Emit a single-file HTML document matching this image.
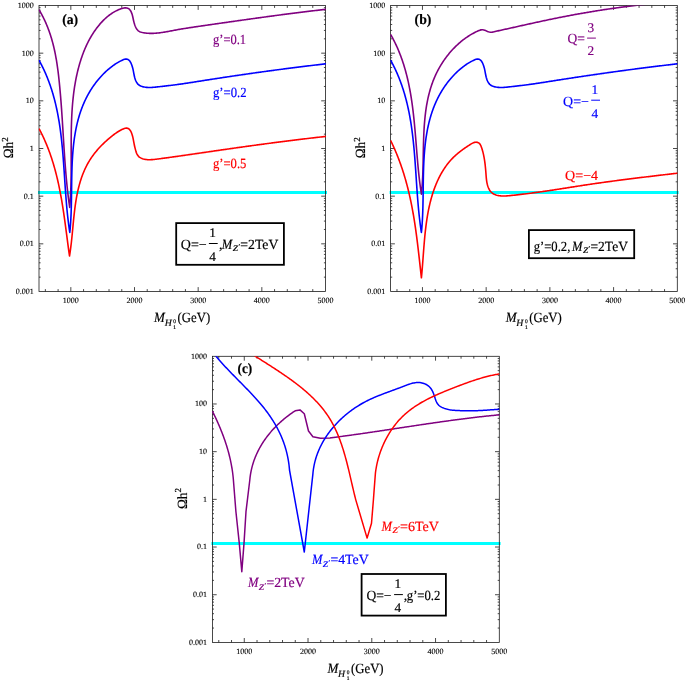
<!DOCTYPE html>
<html lang="en"><head><meta charset="utf-8"><title>Relic density plots</title>
<style>
html,body{margin:0;padding:0;background:#fff}
body{width:685px;height:682px;overflow:hidden}
svg{display:block}
svg text{font-family:"Liberation Serif","DejaVu Serif",serif;text-rendering:geometricPrecision}
</style></head><body>
<svg width="685" height="682" viewBox="0 0 685 682">
<rect width="685" height="682" fill="#fff"/>
<path d="M38 192.5H327" stroke="#00ffff" stroke-width="3"/>
<clipPath id="cp1"><rect x="38.6" y="5.5" width="287.3" height="286"/></clipPath>
<path d="M45.37 291.5v-2.4M45.37 5.5v2.4M58.1 291.5v-2.4M58.1 5.5v2.4M70.83 291.5v-4.4M70.83 5.5v4.4M83.57 291.5v-2.4M83.57 5.5v2.4M96.3 291.5v-2.4M96.3 5.5v2.4M109.03 291.5v-2.4M109.03 5.5v2.4M121.77 291.5v-2.4M121.77 5.5v2.4M134.5 291.5v-4.4M134.5 5.5v4.4M147.23 291.5v-2.4M147.23 5.5v2.4M159.97 291.5v-2.4M159.97 5.5v2.4M172.7 291.5v-2.4M172.7 5.5v2.4M185.43 291.5v-2.4M185.43 5.5v2.4M198.17 291.5v-4.4M198.17 5.5v4.4M210.9 291.5v-2.4M210.9 5.5v2.4M223.63 291.5v-2.4M223.63 5.5v2.4M236.37 291.5v-2.4M236.37 5.5v2.4M249.1 291.5v-2.4M249.1 5.5v2.4M261.83 291.5v-4.4M261.83 5.5v4.4M274.57 291.5v-2.4M274.57 5.5v2.4M287.3 291.5v-2.4M287.3 5.5v2.4M300.03 291.5v-2.4M300.03 5.5v2.4M312.77 291.5v-2.4M312.77 5.5v2.4M39 277.15h1.6M325.5 277.15h-1.6M39 268.76h1.6M325.5 268.76h-1.6M39 262.8h1.6M325.5 262.8h-1.6M39 258.18h1.6M325.5 258.18h-1.6M39 254.41h1.6M325.5 254.41h-1.6M39 251.22h1.6M325.5 251.22h-1.6M39 248.45h1.6M325.5 248.45h-1.6M39 246.01h1.6M325.5 246.01h-1.6M39 243.83h4.3M325.5 243.83h-4.3M39 229.48h1.6M325.5 229.48h-1.6M39 221.09h1.6M325.5 221.09h-1.6M39 215.14h1.6M325.5 215.14h-1.6M39 210.52h1.6M325.5 210.52h-1.6M39 206.74h1.6M325.5 206.74h-1.6M39 203.55h1.6M325.5 203.55h-1.6M39 200.79h1.6M325.5 200.79h-1.6M39 198.35h1.6M325.5 198.35h-1.6M39 196.17h4.3M325.5 196.17h-4.3M39 181.82h1.6M325.5 181.82h-1.6M39 173.42h1.6M325.5 173.42h-1.6M39 167.47h1.6M325.5 167.47h-1.6M39 162.85h1.6M325.5 162.85h-1.6M39 159.07h1.6M325.5 159.07h-1.6M39 155.88h1.6M325.5 155.88h-1.6M39 153.12h1.6M325.5 153.12h-1.6M39 150.68h1.6M325.5 150.68h-1.6M39 148.5h4.3M325.5 148.5h-4.3M39 134.15h1.6M325.5 134.15h-1.6M39 125.76h1.6M325.5 125.76h-1.6M39 119.8h1.6M325.5 119.8h-1.6M39 115.18h1.6M325.5 115.18h-1.6M39 111.41h1.6M325.5 111.41h-1.6M39 108.22h1.6M325.5 108.22h-1.6M39 105.45h1.6M325.5 105.45h-1.6M39 103.01h1.6M325.5 103.01h-1.6M39 100.83h4.3M325.5 100.83h-4.3M39 86.48h1.6M325.5 86.48h-1.6M39 78.09h1.6M325.5 78.09h-1.6M39 72.14h1.6M325.5 72.14h-1.6M39 67.52h1.6M325.5 67.52h-1.6M39 63.74h1.6M325.5 63.74h-1.6M39 60.55h1.6M325.5 60.55h-1.6M39 57.79h1.6M325.5 57.79h-1.6M39 55.35h1.6M325.5 55.35h-1.6M39 53.17h4.3M325.5 53.17h-4.3M39 38.82h1.6M325.5 38.82h-1.6M39 30.42h1.6M325.5 30.42h-1.6M39 24.47h1.6M325.5 24.47h-1.6M39 19.85h1.6M325.5 19.85h-1.6M39 16.07h1.6M325.5 16.07h-1.6M39 12.88h1.6M325.5 12.88h-1.6M39 10.12h1.6M325.5 10.12h-1.6M39 7.68h1.6M325.5 7.68h-1.6" stroke="#1c1c1c" stroke-width="0.8" fill="none"/>
<rect x="39" y="5.5" width="286.5" height="286" fill="none" stroke="#1c1c1c" stroke-width="0.8"/>
<g font-size="8" fill="#000" stroke="#000" stroke-width="0.12"><text x="70.83" y="302.8" text-anchor="middle">1000</text><text x="134.5" y="302.8" text-anchor="middle">2000</text><text x="198.17" y="302.8" text-anchor="middle">3000</text><text x="261.83" y="302.8" text-anchor="middle">4000</text><text x="325.5" y="302.8" text-anchor="middle">5000</text><text x="33.7" y="293.9" text-anchor="end">0.001</text><text x="33.7" y="246.23" text-anchor="end">0.01</text><text x="33.7" y="198.57" text-anchor="end">0.1</text><text x="33.7" y="150.9" text-anchor="end">1</text><text x="33.7" y="103.23" text-anchor="end">10</text><text x="33.7" y="55.57" text-anchor="end">100</text><text x="33.7" y="7.9" text-anchor="end">1000</text></g>
<text transform="translate(13.3 158.3) rotate(-90)" font-size="14" fill="#000" stroke="#000" stroke-width="0.18"><tspan textLength="16.6" lengthAdjust="spacingAndGlyphs">Ωh</tspan><tspan font-size="9.2" dy="-5.4">2</tspan></text>
<text x="154.1" y="321.8" font-size="14" fill="#000" stroke="#000" stroke-width="0.18" textLength="10.8" lengthAdjust="spacingAndGlyphs" font-style="italic">M</text>
<text x="164.7" y="326.1" font-size="9.4" fill="#000" stroke="#000" stroke-width="0.18" textLength="7" lengthAdjust="spacingAndGlyphs" font-style="italic">H</text>
<text x="173.3" y="322.6" font-size="5.4" fill="#000" stroke="#000" stroke-width="0.18">0</text>
<text x="173.3" y="328.9" font-size="5.4" fill="#000" stroke="#000" stroke-width="0.18">1</text>
<text x="177.6" y="321.8" font-size="14" fill="#000" stroke="#000" stroke-width="0.18" textLength="32.6" lengthAdjust="spacingAndGlyphs">(GeV)</text>
<path d="M39 9.7L39.53 10.6L40.06 11.5L40.57 12.4L41.08 13.31L41.57 14.21L42.06 15.12L42.53 16.03L43 16.94L43.46 17.85L43.9 18.77L44.34 19.69L44.78 20.6L45.2 21.52L45.61 22.44L46.02 23.37L46.41 24.29L46.8 25.22L47.18 26.14L47.56 27.07L47.92 28L48.28 28.94L48.63 29.87L48.97 30.81L49.31 31.74L49.63 32.68L49.95 33.62L50.27 34.56L50.57 35.5L50.87 36.45L51.17 37.39L51.45 38.34L51.73 39.29L52 40.23L52.27 41.19L52.53 42.14L52.79 43.09L53.04 44.04L53.28 45L53.52 45.96L53.75 46.92L53.97 47.87L54.19 48.84L54.41 49.8L54.62 50.76L54.82 51.72L55.02 52.69L55.22 53.66L55.41 54.62L55.59 55.59L55.77 56.56L55.95 57.53L56.12 58.51L56.29 59.48L56.46 60.45L56.62 61.43L56.77 62.4L56.93 63.38L57.08 64.36L57.22 65.34L57.36 66.32L57.5 67.3L57.64 68.28L57.77 69.26L57.9 70.25L58.03 71.23L58.15 72.22L58.27 73.2L58.39 74.19L58.51 75.18L58.62 76.17L58.73 77.16L58.84 78.15L58.95 79.14L59.06 80.13L59.16 81.13L59.27 82.12L59.37 83.11L59.47 84.11L59.56 85.1L59.66 86.1L59.76 87.1L59.85 88.1L59.94 89.09L60.03 90.09L60.12 91.09L60.21 92.09L60.3 93.09L60.39 94.1L60.47 95.1L60.56 96.1L60.64 97.1L60.72 98.11L60.8 99.11L60.88 100.11L60.96 101.12L61.04 102.12L61.11 103.13L61.19 104.14L61.26 105.14L61.34 106.15L61.41 107.16L61.48 108.17L61.56 109.17L61.63 110.18L61.7 111.19L61.77 112.2L61.84 113.21L61.9 114.22L61.97 115.23L62.04 116.24L62.1 117.25L62.17 118.26L62.24 119.27L62.3 120.28L62.37 121.29L62.43 122.3L62.49 123.32L62.56 124.33L62.62 125.34L62.68 126.35L62.75 127.36L62.81 128.38L62.87 129.39L62.94 130.4L63 131.41L63.06 132.43L63.12 133.44L63.18 134.45L63.25 135.46L63.31 136.47L63.37 137.49L63.43 138.5L63.5 139.51L63.56 140.52L63.62 141.54L63.68 142.55L63.75 143.56L63.81 144.57L63.88 145.58L63.94 146.59L64 147.6L64.07 148.62L64.13 149.63L64.2 150.64L64.27 151.65L64.33 152.66L64.4 153.67L64.47 154.68L64.54 155.69L64.61 156.69L64.68 157.7L64.75 158.71L64.82 159.72L64.89 160.73L64.97 161.73L65.04 162.74L65.11 163.75L65.19 164.75L65.27 165.76L65.34 166.76L65.42 167.77L65.5 168.77L65.58 169.77L65.66 170.78L65.75 171.78L65.83 172.78L65.91 173.78L66 174.78L66.09 175.78L66.18 176.78L66.27 177.78L66.36 178.78L66.45 179.78L66.54 180.78L66.64 181.77L66.74 182.77L66.83 183.76L66.93 184.76L67.03 185.75L67.14 186.74L67.24 187.74L67.35 188.73L67.45 189.72L67.56 190.71L67.67 191.7L67.79 192.68L67.9 193.67L68.02 194.66L68.13 195.64L68.25 196.63L68.38 197.61L68.5 198.6L68.62 199.58L68.75 200.56L68.88 201.54L69.01 202.52L69.15 203.5L69.28 204.47L69.42 205.45L69.56 206.43L69.7 207.4L69.79 206.42L69.87 205.44L69.95 204.46L70.02 203.48L70.1 202.5L70.17 201.51L70.24 200.53L70.3 199.54L70.36 198.56L70.42 197.57L70.47 196.58L70.53 195.59L70.58 194.6L70.63 193.61L70.67 192.61L70.71 191.62L70.75 190.63L70.79 189.63L70.83 188.64L70.86 187.64L70.89 186.64L70.92 185.65L70.95 184.65L70.97 183.65L71 182.65L71.02 181.65L71.04 180.65L71.06 179.64L71.08 178.64L71.09 177.64L71.11 176.63L71.12 175.63L71.13 174.63L71.14 173.62L71.15 172.61L71.16 171.61L71.16 170.6L71.17 169.59L71.17 168.59L71.18 167.58L71.18 166.57L71.18 165.56L71.18 164.55L71.18 163.54L71.18 162.53L71.18 161.52L71.18 160.51L71.18 159.5L71.18 158.49L71.18 157.48L71.18 156.47L71.18 155.46L71.18 154.44L71.18 153.43L71.17 152.42L71.17 151.41L71.17 150.4L71.17 149.38L71.17 148.37L71.17 147.36L71.17 146.35L71.17 145.33L71.18 144.32L71.18 143.31L71.18 142.3L71.19 141.28L71.19 140.27L71.2 139.26L71.21 138.25L71.22 137.23L71.23 136.22L71.24 135.21L71.25 134.2L71.26 133.19L71.28 132.18L71.29 131.17L71.31 130.16L71.33 129.15L71.35 128.14L71.38 127.13L71.4 126.12L71.43 125.11L71.46 124.1L71.49 123.09L71.52 122.08L71.56 121.08L71.6 120.07L71.63 119.06L71.68 118.06L71.72 117.05L71.77 116.05L71.82 115.04L71.87 114.04L71.93 113.04L71.98 112.03L72.04 111.03L72.11 110.03L72.17 109.03L72.24 108.03L72.32 107.03L72.39 106.03L72.47 105.03L72.55 104.04L72.64 103.04L72.73 102.05L72.82 101.05L72.92 100.06L73.02 99.06L73.12 98.07L73.23 97.08L73.34 96.09L73.45 95.1L73.57 94.11L73.69 93.12L73.82 92.14L73.95 91.15L74.09 90.16L74.23 89.18L74.37 88.2L74.52 87.22L74.67 86.24L74.83 85.26L74.99 84.28L75.16 83.3L75.33 82.32L75.5 81.35L75.69 80.38L75.87 79.4L76.06 78.43L76.26 77.46L76.46 76.49L76.67 75.52L76.88 74.56L77.09 73.59L77.32 72.63L77.54 71.67L77.78 70.7L78.02 69.74L78.26 68.79L78.51 67.83L78.77 66.87L79.03 65.92L79.3 64.97L79.57 64.02L79.85 63.07L80.14 62.12L80.43 61.17L80.73 60.23L81.03 59.28L81.34 58.34L81.66 57.4L81.99 56.47L82.32 55.53L82.66 54.6L83 53.67L83.35 52.74L83.71 51.82L84.08 50.9L84.46 49.98L84.84 49.06L85.23 48.15L85.63 47.24L86.03 46.33L86.44 45.43L86.87 44.53L87.3 43.64L87.73 42.74L88.18 41.86L88.64 40.97L89.1 40.1L89.57 39.22L90.05 38.35L90.54 37.49L91.04 36.63L91.55 35.77L92.07 34.92L92.6 34.07L93.13 33.23L93.68 32.4L94.24 31.57L94.8 30.74L95.38 29.93L95.96 29.11L96.56 28.31L97.17 27.51L97.78 26.71L98.41 25.92L99.05 25.14L99.69 24.37L100.35 23.6L101.02 22.84L101.71 22.1L102.4 21.36L103.1 20.63L103.82 19.91L104.55 19.2L105.29 18.51L106.04 17.83L106.81 17.16L107.58 16.5L108.37 15.86L109.18 15.24L109.99 14.63L110.82 14.04L111.67 13.47L112.52 12.91L113.4 12.37L114.28 11.85L115.18 11.35L116.09 10.88L117.02 10.42L117.96 9.98L118.92 9.57L119.89 9.18L120.88 8.81L121.87 8.48L122.88 8.21L123.88 8L124.87 7.88L125.85 7.87L126.81 7.98L127.72 8.23L128.57 8.63L129.32 9.2L129.98 9.92L130.55 10.76L131.05 11.67L131.48 12.63L131.85 13.6L132.17 14.57L132.44 15.55L132.69 16.53L132.91 17.52L133.12 18.5L133.33 19.48L133.54 20.46L133.76 21.43L134 22.39L134.26 23.36L134.56 24.31L134.89 25.26L135.27 26.21L135.69 27.15L136.17 28.08L136.71 28.97L137.32 29.8L138 30.55L138.76 31.17L139.61 31.66L140.53 32.03L141.48 32.32L142.47 32.54L143.46 32.73L144.46 32.89L145.45 33.02L146.44 33.14L147.44 33.23L148.43 33.29L149.42 33.34L150.41 33.37L151.41 33.37L152.4 33.36L153.39 33.33L154.38 33.29L155.37 33.22L156.37 33.15L157.36 33.06L158.35 32.96L159.34 32.84L160.33 32.72L161.32 32.58L162.32 32.43L163.31 32.28L164.3 32.12L165.29 31.95L166.28 31.78L167.27 31.6L168.26 31.42L169.25 31.23L170.24 31.05L171.23 30.86L172.22 30.67L173.22 30.49L174.21 30.3L175.2 30.12L176.19 29.94L177.18 29.76L178.17 29.58L179.16 29.41L180.15 29.24L181.14 29.07L182.13 28.91L183.12 28.74L184.11 28.58L185.1 28.42L186.09 28.26L187.08 28.11L188.07 27.95L189.06 27.8L190.05 27.65L191.04 27.49L192.03 27.34L193.02 27.2L194.01 27.05L195 26.9L195.99 26.76L196.98 26.61L197.97 26.47L198.96 26.32L199.95 26.18L200.94 26.04L201.93 25.89L202.92 25.75L203.91 25.61L204.9 25.47L205.89 25.32L206.88 25.18L207.87 25.04L208.86 24.9L209.85 24.75L210.84 24.61L211.83 24.47L212.83 24.33L213.82 24.18L214.81 24.04L215.8 23.9L216.79 23.76L217.78 23.61L218.77 23.47L219.76 23.33L220.75 23.19L221.74 23.05L222.73 22.9L223.72 22.76L224.72 22.62L225.71 22.48L226.7 22.34L227.69 22.2L228.68 22.05L229.67 21.91L230.66 21.77L231.65 21.63L232.64 21.49L233.64 21.35L234.63 21.21L235.62 21.07L236.61 20.93L237.6 20.79L238.59 20.65L239.58 20.5L240.58 20.36L241.57 20.22L242.56 20.08L243.55 19.95L244.54 19.81L245.54 19.67L246.53 19.53L247.52 19.39L248.51 19.25L249.5 19.11L250.5 18.97L251.49 18.83L252.48 18.7L253.47 18.56L254.46 18.42L255.46 18.28L256.45 18.14L257.44 18.01L258.43 17.87L259.42 17.73L260.42 17.6L261.41 17.46L262.4 17.33L263.39 17.19L264.39 17.05L265.38 16.92L266.37 16.78L267.36 16.65L268.36 16.51L269.35 16.38L270.34 16.25L271.34 16.11L272.33 15.98L273.32 15.85L274.31 15.71L275.31 15.58L276.3 15.45L277.29 15.32L278.29 15.18L279.28 15.05L280.27 14.92L281.27 14.79L282.26 14.66L283.25 14.53L284.25 14.4L285.24 14.27L286.23 14.14L287.23 14.01L288.22 13.88L289.21 13.76L290.21 13.63L291.2 13.5L292.19 13.37L293.19 13.25L294.18 13.12L295.17 13L296.17 12.87L297.16 12.74L298.16 12.62L299.15 12.5L300.14 12.37L301.14 12.25L302.13 12.12L303.13 12L304.12 11.88L305.11 11.76L306.11 11.64L307.1 11.52L308.1 11.39L309.09 11.27L310.09 11.15L311.08 11.03L312.07 10.92L313.07 10.8L314.06 10.68L315.06 10.56L316.05 10.44L317.05 10.33L318.04 10.21L319.04 10.1L320.03 9.98L321.03 9.87L322.02 9.75L323.02 9.64L324.01 9.53L325.01 9.41L326 9.3" fill="none" stroke="#800080" stroke-width="1.6" stroke-linejoin="round" clip-path="url(#cp1)"/>
<path d="M39 60.2L39.5 61.1L39.98 62L40.47 62.9L40.94 63.8L41.41 64.71L41.87 65.62L42.33 66.53L42.77 67.44L43.21 68.35L43.65 69.26L44.08 70.18L44.5 71.1L44.91 72.02L45.32 72.94L45.72 73.86L46.12 74.78L46.51 75.71L46.89 76.64L47.27 77.57L47.64 78.5L48.01 79.43L48.37 80.36L48.72 81.3L49.07 82.23L49.41 83.17L49.75 84.11L50.08 85.05L50.41 86L50.73 86.94L51.04 87.88L51.35 88.83L51.66 89.78L51.96 90.73L52.25 91.68L52.54 92.63L52.82 93.58L53.1 94.54L53.37 95.49L53.64 96.45L53.91 97.41L54.17 98.37L54.42 99.33L54.67 100.29L54.91 101.25L55.15 102.22L55.39 103.18L55.62 104.15L55.85 105.12L56.07 106.09L56.29 107.06L56.5 108.03L56.72 109L56.92 109.97L57.12 110.94L57.32 111.92L57.52 112.9L57.71 113.87L57.89 114.85L58.08 115.83L58.26 116.81L58.43 117.79L58.6 118.77L58.77 119.75L58.94 120.74L59.1 121.72L59.26 122.7L59.41 123.69L59.56 124.68L59.71 125.66L59.86 126.65L60 127.64L60.14 128.63L60.28 129.62L60.41 130.61L60.54 131.6L60.67 132.59L60.8 133.59L60.92 134.58L61.04 135.58L61.16 136.57L61.28 137.57L61.39 138.56L61.5 139.56L61.61 140.56L61.72 141.55L61.82 142.55L61.92 143.55L62.02 144.55L62.12 145.55L62.22 146.55L62.31 147.55L62.4 148.55L62.5 149.55L62.58 150.55L62.67 151.55L62.76 152.56L62.84 153.56L62.93 154.56L63.01 155.57L63.09 156.57L63.17 157.57L63.25 158.58L63.32 159.58L63.4 160.59L63.47 161.59L63.55 162.6L63.62 163.6L63.69 164.61L63.76 165.61L63.83 166.62L63.9 167.62L63.97 168.63L64.04 169.64L64.11 170.64L64.18 171.65L64.25 172.65L64.31 173.66L64.38 174.67L64.45 175.67L64.51 176.68L64.58 177.68L64.65 178.69L64.71 179.7L64.78 180.7L64.84 181.71L64.91 182.71L64.98 183.72L65.05 184.72L65.11 185.73L65.18 186.73L65.25 187.74L65.32 188.74L65.39 189.75L65.46 190.75L65.53 191.76L65.6 192.76L65.68 193.76L65.75 194.77L65.82 195.77L65.9 196.77L65.98 197.77L66.05 198.78L66.13 199.78L66.21 200.78L66.3 201.78L66.38 202.78L66.46 203.78L66.55 204.78L66.64 205.78L66.73 206.77L66.82 207.77L66.91 208.77L67 209.76L67.1 210.76L67.2 211.76L67.3 212.75L67.4 213.75L67.5 214.74L67.61 215.73L67.72 216.72L67.83 217.72L67.94 218.71L68.06 219.7L68.18 220.69L68.3 221.68L68.42 222.66L68.54 223.65L68.67 224.64L68.8 225.62L68.94 226.61L69.07 227.59L69.21 228.58L69.35 229.56L69.5 230.54L69.65 231.52L69.8 232.5L69.9 231.54L69.99 230.57L70.08 229.61L70.17 228.64L70.25 227.67L70.33 226.69L70.41 225.72L70.48 224.74L70.55 223.76L70.62 222.78L70.68 221.8L70.74 220.82L70.8 219.83L70.85 218.85L70.9 217.86L70.95 216.87L70.99 215.88L71.04 214.89L71.08 213.89L71.12 212.9L71.15 211.9L71.18 210.9L71.22 209.9L71.25 208.9L71.27 207.9L71.3 206.9L71.33 205.9L71.35 204.89L71.37 203.89L71.39 202.88L71.41 201.87L71.43 200.86L71.44 199.86L71.46 198.85L71.48 197.83L71.49 196.82L71.5 195.81L71.52 194.8L71.53 193.78L71.54 192.77L71.55 191.76L71.57 190.74L71.58 189.72L71.59 188.71L71.6 187.69L71.61 186.68L71.63 185.66L71.64 184.64L71.65 183.62L71.67 182.61L71.68 181.59L71.7 180.57L71.71 179.55L71.73 178.53L71.75 177.52L71.77 176.5L71.79 175.48L71.81 174.46L71.84 173.44L71.86 172.43L71.89 171.41L71.92 170.39L71.95 169.38L71.98 168.36L72.02 167.34L72.06 166.33L72.1 165.31L72.14 164.3L72.18 163.28L72.23 162.27L72.28 161.26L72.33 160.25L72.39 159.23L72.45 158.22L72.51 157.21L72.57 156.2L72.64 155.2L72.71 154.19L72.79 153.18L72.87 152.18L72.95 151.17L73.03 150.17L73.12 149.17L73.22 148.17L73.32 147.17L73.42 146.17L73.52 145.17L73.63 144.17L73.75 143.18L73.87 142.18L73.99 141.19L74.12 140.2L74.26 139.21L74.39 138.22L74.54 137.24L74.69 136.25L74.84 135.27L75 134.29L75.16 133.31L75.34 132.33L75.51 131.35L75.69 130.38L75.88 129.41L76.07 128.43L76.27 127.47L76.48 126.5L76.69 125.53L76.91 124.57L77.13 123.61L77.36 122.65L77.6 121.7L77.85 120.74L78.1 119.79L78.36 118.84L78.62 117.89L78.89 116.95L79.17 116.01L79.46 115.06L79.75 114.13L80.05 113.19L80.36 112.26L80.68 111.33L81 110.4L81.34 109.48L81.68 108.56L82.02 107.64L82.38 106.72L82.75 105.81L83.12 104.89L83.5 103.99L83.89 103.08L84.29 102.18L84.7 101.28L85.11 100.38L85.54 99.49L85.97 98.6L86.42 97.72L86.87 96.84L87.33 95.96L87.8 95.08L88.28 94.21L88.76 93.35L89.26 92.49L89.76 91.63L90.27 90.78L90.8 89.93L91.33 89.09L91.87 88.26L92.41 87.43L92.97 86.6L93.54 85.78L94.11 84.97L94.7 84.16L95.29 83.36L95.89 82.56L96.5 81.77L97.12 80.99L97.75 80.21L98.38 79.44L99.03 78.68L99.68 77.92L100.35 77.17L101.02 76.43L101.7 75.7L102.39 74.97L103.09 74.25L103.8 73.54L104.52 72.84L105.24 72.14L105.98 71.46L106.72 70.78L107.47 70.11L108.23 69.45L109 68.8L109.78 68.15L110.57 67.52L111.37 66.9L112.18 66.28L112.99 65.68L113.82 65.09L114.65 64.51L115.5 63.94L116.36 63.39L117.23 62.85L118.11 62.33L119 61.82L119.9 61.34L120.82 60.87L121.75 60.42L122.7 59.99L123.65 59.6L124.6 59.29L125.54 59.09L126.45 59.07L127.31 59.22L128.12 59.56L128.87 60.08L129.54 60.76L130.13 61.58L130.67 62.49L131.14 63.46L131.56 64.46L131.93 65.45L132.25 66.44L132.54 67.42L132.8 68.4L133.03 69.37L133.24 70.35L133.43 71.32L133.61 72.3L133.79 73.28L133.98 74.26L134.17 75.24L134.38 76.22L134.61 77.19L134.88 78.16L135.18 79.12L135.52 80.07L135.92 81.01L136.37 81.92L136.89 82.8L137.48 83.61L138.15 84.35L138.91 84.99L139.76 85.52L140.67 85.96L141.62 86.33L142.61 86.62L143.59 86.87L144.58 87.07L145.57 87.22L146.56 87.34L147.55 87.42L148.54 87.46L149.53 87.48L150.52 87.47L151.51 87.44L152.51 87.38L153.5 87.31L154.49 87.22L155.48 87.12L156.47 87.02L157.46 86.91L158.45 86.8L159.45 86.69L160.44 86.57L161.43 86.46L162.42 86.35L163.41 86.24L164.41 86.12L165.4 86.01L166.39 85.9L167.38 85.78L168.38 85.66L169.37 85.54L170.36 85.42L171.35 85.3L172.35 85.18L173.34 85.05L174.33 84.93L175.32 84.8L176.32 84.67L177.31 84.53L178.3 84.4L179.3 84.26L180.29 84.12L181.28 83.98L182.28 83.84L183.27 83.7L184.26 83.55L185.25 83.4L186.25 83.26L187.24 83.11L188.23 82.96L189.23 82.81L190.22 82.65L191.21 82.5L192.2 82.35L193.2 82.19L194.19 82.04L195.18 81.88L196.17 81.73L197.17 81.57L198.16 81.41L199.15 81.26L200.14 81.1L201.13 80.94L202.12 80.79L203.12 80.63L204.11 80.47L205.1 80.32L206.09 80.16L207.08 80.01L208.07 79.85L209.06 79.7L210.05 79.54L211.04 79.39L212.04 79.23L213.03 79.08L214.02 78.93L215.01 78.78L216 78.62L216.99 78.47L217.98 78.32L218.97 78.17L219.96 78.02L220.95 77.87L221.93 77.71L222.92 77.56L223.91 77.41L224.9 77.27L225.89 77.12L226.88 76.97L227.87 76.82L228.86 76.67L229.85 76.52L230.84 76.38L231.83 76.23L232.82 76.08L233.8 75.93L234.79 75.79L235.78 75.64L236.77 75.5L237.76 75.35L238.75 75.21L239.74 75.06L240.73 74.92L241.71 74.77L242.7 74.63L243.69 74.49L244.68 74.34L245.67 74.2L246.66 74.06L247.65 73.92L248.63 73.78L249.62 73.64L250.61 73.49L251.6 73.35L252.59 73.21L253.58 73.07L254.57 72.94L255.55 72.8L256.54 72.66L257.53 72.52L258.52 72.38L259.51 72.24L260.5 72.11L261.49 71.97L262.48 71.83L263.47 71.7L264.45 71.56L265.44 71.42L266.43 71.29L267.42 71.15L268.41 71.02L269.4 70.88L270.39 70.75L271.38 70.62L272.37 70.48L273.36 70.35L274.35 70.22L275.34 70.08L276.33 69.95L277.32 69.82L278.31 69.69L279.3 69.56L280.29 69.43L281.28 69.3L282.27 69.17L283.26 69.04L284.25 68.91L285.24 68.78L286.23 68.65L287.22 68.52L288.21 68.4L289.21 68.27L290.2 68.14L291.19 68.02L292.18 67.89L293.17 67.76L294.16 67.64L295.16 67.51L296.15 67.39L297.14 67.26L298.13 67.14L299.13 67.01L300.12 66.89L301.11 66.77L302.11 66.64L303.1 66.52L304.09 66.4L305.09 66.28L306.08 66.16L307.07 66.03L308.07 65.91L309.06 65.79L310.06 65.67L311.05 65.55L312.05 65.43L313.04 65.32L314.04 65.2L315.03 65.08L316.03 64.96L317.03 64.84L318.02 64.73L319.02 64.61L320.02 64.49L321.01 64.38L322.01 64.26L323.01 64.14L324 64.03L325 63.91L326 63.8" fill="none" stroke="#0000ff" stroke-width="1.6" stroke-linejoin="round" clip-path="url(#cp1)"/>
<path d="M39 128.6L39.48 129.5L39.96 130.4L40.43 131.31L40.89 132.22L41.35 133.12L41.8 134.03L42.25 134.95L42.69 135.86L43.12 136.78L43.55 137.69L43.97 138.61L44.39 139.53L44.8 140.46L45.2 141.38L45.6 142.31L46 143.23L46.39 144.16L46.77 145.09L47.15 146.03L47.52 146.96L47.89 147.9L48.26 148.83L48.61 149.77L48.97 150.71L49.32 151.66L49.66 152.6L50 153.54L50.33 154.49L50.66 155.44L50.98 156.39L51.3 157.34L51.62 158.29L51.93 159.24L52.23 160.19L52.54 161.15L52.83 162.11L53.13 163.06L53.42 164.02L53.7 164.98L53.98 165.95L54.26 166.91L54.53 167.87L54.8 168.84L55.06 169.8L55.32 170.77L55.58 171.74L55.83 172.71L56.08 173.68L56.33 174.65L56.57 175.62L56.81 176.6L57.05 177.57L57.28 178.55L57.51 179.52L57.73 180.5L57.95 181.48L58.17 182.46L58.39 183.44L58.6 184.42L58.81 185.4L59.02 186.38L59.22 187.37L59.42 188.35L59.62 189.33L59.82 190.32L60.01 191.31L60.2 192.29L60.39 193.28L60.57 194.27L60.76 195.26L60.94 196.25L61.12 197.24L61.29 198.23L61.47 199.22L61.64 200.21L61.81 201.2L61.97 202.19L62.14 203.19L62.3 204.18L62.46 205.17L62.62 206.17L62.78 207.16L62.94 208.16L63.09 209.15L63.25 210.15L63.4 211.15L63.55 212.14L63.7 213.14L63.84 214.14L63.99 215.13L64.13 216.13L64.28 217.13L64.42 218.13L64.56 219.13L64.7 220.12L64.84 221.12L64.98 222.12L65.11 223.12L65.25 224.12L65.38 225.12L65.52 226.11L65.65 227.11L65.79 228.11L65.92 229.11L66.05 230.11L66.18 231.11L66.31 232.11L66.45 233.11L66.58 234.1L66.71 235.1L66.84 236.1L66.97 237.1L67.1 238.1L67.23 239.09L67.36 240.09L67.49 241.09L67.62 242.08L67.75 243.08L67.88 244.08L68.01 245.07L68.15 246.07L68.28 247.06L68.41 248.06L68.55 249.05L68.68 250.05L68.81 251.04L68.95 252.03L69.09 253.03L69.22 254.02L69.36 255.01L69.5 256L69.66 255.03L69.82 254.06L69.97 253.08L70.11 252.11L70.25 251.13L70.39 250.15L70.53 249.17L70.66 248.18L70.79 247.2L70.91 246.21L71.03 245.22L71.15 244.23L71.27 243.24L71.38 242.24L71.49 241.25L71.6 240.25L71.7 239.25L71.81 238.26L71.91 237.26L72.01 236.26L72.11 235.25L72.21 234.25L72.31 233.25L72.4 232.24L72.5 231.24L72.59 230.23L72.69 229.23L72.78 228.22L72.88 227.21L72.97 226.21L73.07 225.2L73.16 224.19L73.26 223.19L73.36 222.18L73.45 221.17L73.55 220.16L73.65 219.16L73.76 218.15L73.86 217.15L73.97 216.14L74.07 215.13L74.18 214.13L74.3 213.13L74.41 212.12L74.53 211.12L74.65 210.12L74.77 209.12L74.9 208.12L75.03 207.12L75.17 206.12L75.3 205.13L75.45 204.13L75.59 203.14L75.74 202.15L75.9 201.16L76.06 200.17L76.22 199.18L76.39 198.2L76.57 197.21L76.75 196.23L76.93 195.25L77.12 194.27L77.32 193.3L77.52 192.32L77.73 191.35L77.95 190.38L78.17 189.42L78.4 188.45L78.63 187.49L78.88 186.53L79.13 185.58L79.38 184.62L79.65 183.67L79.92 182.73L80.2 181.78L80.49 180.84L80.79 179.9L81.09 178.97L81.41 178.03L81.73 177.11L82.06 176.18L82.4 175.26L82.75 174.34L83.11 173.42L83.48 172.51L83.86 171.61L84.25 170.7L84.65 169.8L85.06 168.91L85.48 168.02L85.91 167.13L86.35 166.25L86.8 165.37L87.27 164.49L87.74 163.62L88.23 162.76L88.73 161.9L89.24 161.04L89.76 160.19L90.29 159.34L90.84 158.5L91.4 157.66L91.97 156.83L92.56 156L93.16 155.18L93.77 154.36L94.39 153.55L95.02 152.74L95.67 151.95L96.33 151.15L97 150.36L97.67 149.58L98.36 148.81L99.05 148.04L99.76 147.28L100.47 146.53L101.18 145.79L101.91 145.05L102.64 144.32L103.38 143.6L104.12 142.89L104.86 142.19L105.61 141.49L106.37 140.81L107.12 140.13L107.88 139.46L108.64 138.81L109.4 138.16L110.17 137.52L110.93 136.9L111.69 136.28L112.46 135.68L113.22 135.08L113.99 134.5L114.76 133.93L115.54 133.37L116.33 132.82L117.14 132.28L117.96 131.76L118.79 131.25L119.65 130.75L120.53 130.27L121.43 129.79L122.36 129.34L123.31 128.9L124.28 128.51L125.25 128.23L126.2 128.1L127.11 128.15L127.96 128.39L128.75 128.81L129.45 129.4L130.07 130.15L130.62 131.01L131.1 131.95L131.53 132.93L131.9 133.92L132.22 134.91L132.5 135.91L132.76 136.92L132.98 137.92L133.18 138.92L133.38 139.91L133.56 140.9L133.74 141.87L133.93 142.85L134.12 143.82L134.31 144.78L134.51 145.75L134.72 146.72L134.95 147.69L135.19 148.66L135.45 149.65L135.73 150.64L136.03 151.63L136.37 152.62L136.76 153.58L137.2 154.49L137.72 155.35L138.32 156.13L139.01 156.82L139.79 157.41L140.64 157.9L141.54 158.32L142.48 158.68L143.44 158.97L144.4 159.2L145.37 159.39L146.34 159.53L147.32 159.63L148.3 159.69L149.29 159.71L150.28 159.71L151.28 159.67L152.28 159.61L153.28 159.53L154.28 159.43L155.28 159.32L156.28 159.2L157.29 159.07L158.29 158.94L159.29 158.81L160.3 158.67L161.3 158.54L162.3 158.41L163.3 158.27L164.3 158.14L165.3 158L166.3 157.87L167.29 157.73L168.29 157.6L169.29 157.46L170.28 157.32L171.28 157.19L172.27 157.05L173.27 156.91L174.26 156.77L175.26 156.63L176.25 156.49L177.24 156.35L178.23 156.21L179.23 156.07L180.22 155.93L181.21 155.79L182.2 155.65L183.19 155.51L184.18 155.37L185.17 155.23L186.16 155.08L187.15 154.94L188.14 154.8L189.13 154.66L190.12 154.51L191.11 154.37L192.09 154.23L193.08 154.08L194.07 153.94L195.06 153.8L196.04 153.65L197.03 153.51L198.02 153.36L199.01 153.22L199.99 153.08L200.98 152.93L201.97 152.79L202.96 152.64L203.94 152.5L204.93 152.36L205.92 152.21L206.9 152.07L207.89 151.92L208.88 151.78L209.86 151.63L210.85 151.49L211.84 151.35L212.83 151.2L213.81 151.06L214.8 150.91L215.79 150.77L216.78 150.63L217.77 150.48L218.75 150.34L219.74 150.2L220.73 150.05L221.72 149.91L222.71 149.77L223.7 149.63L224.69 149.48L225.68 149.34L226.67 149.2L227.66 149.06L228.65 148.92L229.64 148.78L230.63 148.63L231.62 148.49L232.61 148.35L233.6 148.21L234.6 148.07L235.59 147.93L236.58 147.79L237.57 147.65L238.56 147.51L239.55 147.37L240.55 147.23L241.54 147.09L242.53 146.95L243.52 146.81L244.52 146.68L245.51 146.54L246.5 146.4L247.49 146.26L248.49 146.13L249.48 145.99L250.47 145.85L251.47 145.71L252.46 145.58L253.45 145.44L254.45 145.31L255.44 145.17L256.44 145.03L257.43 144.9L258.42 144.76L259.42 144.63L260.41 144.49L261.41 144.36L262.4 144.23L263.39 144.09L264.39 143.96L265.38 143.83L266.38 143.69L267.37 143.56L268.37 143.43L269.36 143.3L270.35 143.17L271.35 143.04L272.34 142.91L273.34 142.77L274.33 142.64L275.33 142.51L276.32 142.39L277.32 142.26L278.31 142.13L279.31 142L280.3 141.87L281.3 141.74L282.29 141.62L283.28 141.49L284.28 141.36L285.27 141.24L286.27 141.11L287.26 140.98L288.26 140.86L289.25 140.73L290.25 140.61L291.24 140.48L292.24 140.36L293.23 140.24L294.22 140.11L295.22 139.99L296.21 139.87L297.21 139.75L298.2 139.63L299.2 139.5L300.19 139.38L301.18 139.26L302.18 139.14L303.17 139.02L304.16 138.91L305.16 138.79L306.15 138.67L307.15 138.55L308.14 138.43L309.13 138.32L310.13 138.2L311.12 138.08L312.11 137.97L313.1 137.85L314.1 137.74L315.09 137.63L316.08 137.51L317.07 137.4L318.07 137.29L319.06 137.17L320.05 137.06L321.04 136.95L322.03 136.84L323.03 136.73L324.02 136.62L325.01 136.51L326 136.4" fill="none" stroke="#ff0000" stroke-width="1.6" stroke-linejoin="round" clip-path="url(#cp1)"/>
<text x="62.2" y="23.7" font-size="14.3" fill="#000" stroke="#000" stroke-width="0.18" textLength="16" lengthAdjust="spacingAndGlyphs" font-weight="bold">(a)</text>
<text x="213" y="43.9" font-size="14" fill="#800080" stroke="#800080" stroke-width="0.18" textLength="33" lengthAdjust="spacingAndGlyphs">g’=0.1</text>
<text x="213" y="97.3" font-size="14" fill="#0000ff" stroke="#0000ff" stroke-width="0.18" textLength="33.6" lengthAdjust="spacingAndGlyphs">g’=0.2</text>
<text x="213" y="167.9" font-size="14" fill="#ff0000" stroke="#ff0000" stroke-width="0.18" textLength="33.4" lengthAdjust="spacingAndGlyphs">g’=0.5</text>
<rect x="176.2" y="223.1" width="107.7" height="41.7" fill="#fff" stroke="#000" stroke-width="1.8"/>
<text x="180.8" y="249" font-size="14" fill="#000" stroke="#000" stroke-width="0.18" textLength="25.9" lengthAdjust="spacingAndGlyphs">Q=−</text>
<path d="M208.9 243.5h8.8" stroke="#000" stroke-width="1"/>
<text font-size="13.3" fill="#000" stroke="#000" stroke-width="0.18" text-anchor="middle"><tspan x="212.6" y="237">1</tspan><tspan x="212.6" y="260.8">4</tspan></text>
<text x="218.9" y="249" font-size="14" fill="#000" stroke="#000" stroke-width="0.18">,</text>
<text x="221.8" y="249" font-size="14" fill="#000" stroke="#000" stroke-width="0.18" textLength="10.4" lengthAdjust="spacingAndGlyphs" font-style="italic">M</text>
<text x="232.7" y="251.3" font-size="8.4" fill="#000" stroke="#000" stroke-width="0.18" textLength="5.2" lengthAdjust="spacingAndGlyphs" font-style="italic">Z</text>
<text x="238.4" y="249.4" font-size="7.5" fill="#000" stroke="#000" stroke-width="0.18">′</text>
<text x="240.3" y="249" font-size="14" fill="#000" stroke="#000" stroke-width="0.18" textLength="38" lengthAdjust="spacingAndGlyphs">=2TeV</text>
<path d="M389.6 192.5H678.6" stroke="#00ffff" stroke-width="3"/>
<clipPath id="cp2"><rect x="390.2" y="5.5" width="287.5" height="286"/></clipPath>
<path d="M396.97 291.5v-2.4M396.97 5.5v2.4M409.71 291.5v-2.4M409.71 5.5v2.4M422.46 291.5v-4.4M422.46 5.5v4.4M435.2 291.5v-2.4M435.2 5.5v2.4M447.94 291.5v-2.4M447.94 5.5v2.4M460.68 291.5v-2.4M460.68 5.5v2.4M473.42 291.5v-2.4M473.42 5.5v2.4M486.17 291.5v-4.4M486.17 5.5v4.4M498.91 291.5v-2.4M498.91 5.5v2.4M511.65 291.5v-2.4M511.65 5.5v2.4M524.39 291.5v-2.4M524.39 5.5v2.4M537.14 291.5v-2.4M537.14 5.5v2.4M549.88 291.5v-4.4M549.88 5.5v4.4M562.62 291.5v-2.4M562.62 5.5v2.4M575.36 291.5v-2.4M575.36 5.5v2.4M588.1 291.5v-2.4M588.1 5.5v2.4M600.85 291.5v-2.4M600.85 5.5v2.4M613.59 291.5v-4.4M613.59 5.5v4.4M626.33 291.5v-2.4M626.33 5.5v2.4M639.07 291.5v-2.4M639.07 5.5v2.4M651.82 291.5v-2.4M651.82 5.5v2.4M664.56 291.5v-2.4M664.56 5.5v2.4M390.6 277.15h1.6M677.3 277.15h-1.6M390.6 268.76h1.6M677.3 268.76h-1.6M390.6 262.8h1.6M677.3 262.8h-1.6M390.6 258.18h1.6M677.3 258.18h-1.6M390.6 254.41h1.6M677.3 254.41h-1.6M390.6 251.22h1.6M677.3 251.22h-1.6M390.6 248.45h1.6M677.3 248.45h-1.6M390.6 246.01h1.6M677.3 246.01h-1.6M390.6 243.83h4.3M677.3 243.83h-4.3M390.6 229.48h1.6M677.3 229.48h-1.6M390.6 221.09h1.6M677.3 221.09h-1.6M390.6 215.14h1.6M677.3 215.14h-1.6M390.6 210.52h1.6M677.3 210.52h-1.6M390.6 206.74h1.6M677.3 206.74h-1.6M390.6 203.55h1.6M677.3 203.55h-1.6M390.6 200.79h1.6M677.3 200.79h-1.6M390.6 198.35h1.6M677.3 198.35h-1.6M390.6 196.17h4.3M677.3 196.17h-4.3M390.6 181.82h1.6M677.3 181.82h-1.6M390.6 173.42h1.6M677.3 173.42h-1.6M390.6 167.47h1.6M677.3 167.47h-1.6M390.6 162.85h1.6M677.3 162.85h-1.6M390.6 159.07h1.6M677.3 159.07h-1.6M390.6 155.88h1.6M677.3 155.88h-1.6M390.6 153.12h1.6M677.3 153.12h-1.6M390.6 150.68h1.6M677.3 150.68h-1.6M390.6 148.5h4.3M677.3 148.5h-4.3M390.6 134.15h1.6M677.3 134.15h-1.6M390.6 125.76h1.6M677.3 125.76h-1.6M390.6 119.8h1.6M677.3 119.8h-1.6M390.6 115.18h1.6M677.3 115.18h-1.6M390.6 111.41h1.6M677.3 111.41h-1.6M390.6 108.22h1.6M677.3 108.22h-1.6M390.6 105.45h1.6M677.3 105.45h-1.6M390.6 103.01h1.6M677.3 103.01h-1.6M390.6 100.83h4.3M677.3 100.83h-4.3M390.6 86.48h1.6M677.3 86.48h-1.6M390.6 78.09h1.6M677.3 78.09h-1.6M390.6 72.14h1.6M677.3 72.14h-1.6M390.6 67.52h1.6M677.3 67.52h-1.6M390.6 63.74h1.6M677.3 63.74h-1.6M390.6 60.55h1.6M677.3 60.55h-1.6M390.6 57.79h1.6M677.3 57.79h-1.6M390.6 55.35h1.6M677.3 55.35h-1.6M390.6 53.17h4.3M677.3 53.17h-4.3M390.6 38.82h1.6M677.3 38.82h-1.6M390.6 30.42h1.6M677.3 30.42h-1.6M390.6 24.47h1.6M677.3 24.47h-1.6M390.6 19.85h1.6M677.3 19.85h-1.6M390.6 16.07h1.6M677.3 16.07h-1.6M390.6 12.88h1.6M677.3 12.88h-1.6M390.6 10.12h1.6M677.3 10.12h-1.6M390.6 7.68h1.6M677.3 7.68h-1.6" stroke="#1c1c1c" stroke-width="0.8" fill="none"/>
<rect x="390.6" y="5.5" width="286.7" height="286" fill="none" stroke="#1c1c1c" stroke-width="0.8"/>
<g font-size="8" fill="#000" stroke="#000" stroke-width="0.12"><text x="422.46" y="302.8" text-anchor="middle">1000</text><text x="486.17" y="302.8" text-anchor="middle">2000</text><text x="549.88" y="302.8" text-anchor="middle">3000</text><text x="613.59" y="302.8" text-anchor="middle">4000</text><text x="677.3" y="302.8" text-anchor="middle">5000</text><text x="385.3" y="293.9" text-anchor="end">0.001</text><text x="385.3" y="246.23" text-anchor="end">0.01</text><text x="385.3" y="198.57" text-anchor="end">0.1</text><text x="385.3" y="150.9" text-anchor="end">1</text><text x="385.3" y="103.23" text-anchor="end">10</text><text x="385.3" y="55.57" text-anchor="end">100</text><text x="385.3" y="7.9" text-anchor="end">1000</text></g>
<text transform="translate(364.9 158.3) rotate(-90)" font-size="14" fill="#000" stroke="#000" stroke-width="0.18"><tspan textLength="16.6" lengthAdjust="spacingAndGlyphs">Ωh</tspan><tspan font-size="9.2" dy="-5.4">2</tspan></text>
<text x="505.7" y="321.8" font-size="14" fill="#000" stroke="#000" stroke-width="0.18" textLength="10.8" lengthAdjust="spacingAndGlyphs" font-style="italic">M</text>
<text x="516.3" y="326.1" font-size="9.4" fill="#000" stroke="#000" stroke-width="0.18" textLength="7" lengthAdjust="spacingAndGlyphs" font-style="italic">H</text>
<text x="524.9" y="322.6" font-size="5.4" fill="#000" stroke="#000" stroke-width="0.18">0</text>
<text x="524.9" y="328.9" font-size="5.4" fill="#000" stroke="#000" stroke-width="0.18">1</text>
<text x="529.2" y="321.8" font-size="14" fill="#000" stroke="#000" stroke-width="0.18" textLength="32.6" lengthAdjust="spacingAndGlyphs">(GeV)</text>
<path d="M390.6 34.4L391.11 35.29L391.6 36.18L392.09 37.07L392.58 37.97L393.05 38.86L393.52 39.76L393.99 40.67L394.44 41.57L394.89 42.48L395.33 43.38L395.76 44.29L396.19 45.21L396.61 46.12L397.03 47.04L397.44 47.95L397.84 48.87L398.23 49.8L398.62 50.72L399 51.65L399.38 52.57L399.75 53.5L400.11 54.43L400.47 55.37L400.83 56.3L401.17 57.24L401.51 58.18L401.85 59.12L402.17 60.06L402.5 61.01L402.82 61.95L403.13 62.9L403.43 63.85L403.74 64.8L404.03 65.75L404.32 66.7L404.61 67.66L404.89 68.61L405.16 69.57L405.43 70.53L405.7 71.49L405.96 72.46L406.22 73.42L406.47 74.38L406.71 75.35L406.96 76.32L407.19 77.29L407.43 78.26L407.66 79.23L407.88 80.2L408.1 81.18L408.32 82.15L408.53 83.13L408.73 84.11L408.94 85.09L409.14 86.07L409.33 87.05L409.52 88.03L409.71 89.02L409.9 90L410.08 90.99L410.25 91.97L410.43 92.96L410.6 93.95L410.77 94.94L410.93 95.93L411.09 96.92L411.25 97.91L411.4 98.91L411.55 99.9L411.7 100.9L411.84 101.89L411.99 102.89L412.13 103.89L412.26 104.88L412.4 105.88L412.53 106.88L412.66 107.88L412.78 108.88L412.91 109.89L413.03 110.89L413.15 111.89L413.27 112.89L413.38 113.9L413.49 114.9L413.61 115.91L413.71 116.91L413.82 117.92L413.93 118.92L414.03 119.93L414.13 120.94L414.23 121.94L414.33 122.95L414.43 123.96L414.53 124.97L414.62 125.98L414.71 126.99L414.8 128L414.9 129L414.99 130.01L415.07 131.02L415.16 132.03L415.25 133.04L415.33 134.05L415.42 135.06L415.5 136.08L415.59 137.09L415.67 138.1L415.75 139.11L415.84 140.12L415.92 141.13L416 142.14L416.08 143.15L416.16 144.16L416.24 145.17L416.32 146.18L416.41 147.19L416.49 148.2L416.57 149.21L416.65 150.22L416.73 151.23L416.81 152.24L416.89 153.25L416.98 154.25L417.06 155.26L417.14 156.27L417.23 157.28L417.31 158.28L417.4 159.29L417.49 160.3L417.57 161.3L417.66 162.31L417.75 163.31L417.84 164.32L417.94 165.32L418.03 166.32L418.12 167.33L418.22 168.33L418.32 169.33L418.42 170.33L418.52 171.33L418.62 172.33L418.72 173.33L418.83 174.33L418.93 175.32L419.04 176.32L419.15 177.31L419.27 178.31L419.38 179.3L419.5 180.3L419.62 181.29L419.74 182.28L419.86 183.27L419.99 184.26L420.12 185.25L420.25 186.24L420.38 187.22L420.52 188.21L420.66 189.19L420.8 190.18L420.95 191.16L421.1 192.14L421.25 193.12L421.4 194.1L421.5 193.13L421.6 192.16L421.7 191.19L421.79 190.22L421.88 189.24L421.96 188.27L422.04 187.29L422.12 186.31L422.19 185.33L422.26 184.34L422.32 183.36L422.39 182.37L422.44 181.38L422.5 180.39L422.55 179.4L422.6 178.41L422.65 177.42L422.7 176.42L422.74 175.42L422.78 174.43L422.82 173.43L422.85 172.43L422.89 171.43L422.92 170.42L422.95 169.42L422.98 168.42L423 167.41L423.03 166.4L423.05 165.4L423.08 164.39L423.1 163.38L423.12 162.37L423.14 161.36L423.16 160.35L423.18 159.34L423.2 158.33L423.22 157.31L423.23 156.3L423.25 155.29L423.27 154.27L423.29 153.26L423.31 152.24L423.33 151.23L423.35 150.21L423.37 149.2L423.39 148.18L423.41 147.17L423.43 146.15L423.46 145.14L423.48 144.12L423.51 143.11L423.54 142.09L423.57 141.08L423.6 140.06L423.63 139.05L423.67 138.03L423.7 137.02L423.74 136L423.78 134.99L423.83 133.98L423.87 132.96L423.92 131.95L423.98 130.94L424.03 129.93L424.09 128.92L424.15 127.91L424.21 126.9L424.28 125.89L424.35 124.89L424.43 123.88L424.5 122.87L424.59 121.87L424.67 120.87L424.76 119.86L424.86 118.86L424.96 117.86L425.06 116.86L425.17 115.86L425.28 114.87L425.4 113.87L425.52 112.88L425.64 111.88L425.78 110.89L425.91 109.9L426.06 108.92L426.2 107.93L426.36 106.94L426.52 105.96L426.68 104.98L426.85 104L427.03 103.02L427.21 102.04L427.4 101.07L427.6 100.09L427.8 99.12L428.01 98.15L428.23 97.19L428.45 96.22L428.68 95.26L428.92 94.3L429.17 93.34L429.42 92.38L429.68 91.43L429.94 90.47L430.22 89.52L430.5 88.58L430.79 87.63L431.09 86.69L431.4 85.75L431.71 84.81L432.04 83.88L432.37 82.94L432.71 82.01L433.06 81.09L433.42 80.16L433.79 79.24L434.17 78.32L434.55 77.41L434.95 76.5L435.35 75.59L435.77 74.68L436.19 73.78L436.63 72.87L437.07 71.98L437.53 71.08L437.99 70.19L438.46 69.3L438.95 68.42L439.44 67.54L439.95 66.67L440.46 65.79L440.98 64.93L441.52 64.06L442.06 63.21L442.61 62.35L443.17 61.51L443.74 60.66L444.31 59.83L444.9 59L445.5 58.17L446.1 57.35L446.71 56.54L447.34 55.73L447.97 54.94L448.61 54.14L449.25 53.36L449.91 52.58L450.57 51.81L451.24 51.04L451.92 50.29L452.61 49.54L453.3 48.8L454.01 48.07L454.72 47.34L455.44 46.63L456.16 45.92L456.89 45.22L457.64 44.54L458.38 43.86L459.14 43.19L459.9 42.53L460.67 41.88L461.44 41.24L462.23 40.61L463.02 39.99L463.81 39.38L464.61 38.78L465.42 38.2L466.24 37.62L467.06 37.06L467.89 36.5L468.72 35.96L469.56 35.43L470.41 34.91L471.26 34.41L472.12 33.92L472.98 33.44L473.85 32.97L474.73 32.51L475.61 32.07L476.49 31.64L477.38 31.23L478.28 30.83L479.18 30.45L480.09 30.13L481 29.89L481.91 29.75L482.83 29.76L483.76 29.92L484.69 30.22L485.62 30.61L486.56 31.03L487.5 31.44L488.44 31.8L489.39 32.05L490.34 32.18L491.29 32.19L492.25 32.1L493.21 31.95L494.17 31.75L495.14 31.53L496.1 31.3L497.07 31.08L498.04 30.86L499.02 30.64L499.99 30.42L500.97 30.2L501.95 29.99L502.92 29.77L503.9 29.56L504.88 29.34L505.87 29.12L506.85 28.91L507.83 28.69L508.81 28.47L509.8 28.25L510.78 28.04L511.77 27.82L512.75 27.6L513.74 27.38L514.73 27.16L515.71 26.94L516.7 26.72L517.69 26.5L518.68 26.28L519.67 26.06L520.66 25.84L521.64 25.62L522.63 25.4L523.62 25.18L524.61 24.96L525.6 24.74L526.59 24.52L527.59 24.3L528.58 24.08L529.57 23.86L530.56 23.64L531.55 23.42L532.54 23.21L533.53 22.99L534.52 22.77L535.51 22.55L536.5 22.34L537.49 22.12L538.48 21.91L539.47 21.69L540.46 21.48L541.45 21.27L542.44 21.05L543.43 20.84L544.42 20.63L545.41 20.42L546.39 20.21L547.38 20L548.37 19.8L549.36 19.59L550.34 19.39L551.33 19.18L552.31 18.98L553.3 18.78L554.28 18.57L555.26 18.37L556.25 18.17L557.23 17.98L558.21 17.78L559.2 17.58L560.18 17.39L561.16 17.19L562.14 17L563.12 16.81L564.1 16.62L565.08 16.43L566.06 16.24L567.04 16.05L568.02 15.86L569 15.68L569.98 15.49L570.96 15.31L571.94 15.13L572.92 14.94L573.89 14.76L574.87 14.58L575.85 14.4L576.83 14.23L577.81 14.05L578.78 13.87L579.76 13.7L580.74 13.53L581.72 13.35L582.69 13.18L583.67 13.01L584.65 12.84L585.63 12.67L586.61 12.51L587.58 12.34L588.56 12.17L589.54 12.01L590.52 11.84L591.5 11.68L592.47 11.52L593.45 11.36L594.43 11.2L595.41 11.04L596.39 10.89L597.37 10.73L598.35 10.57L599.33 10.42L600.31 10.27L601.29 10.11L602.27 9.96L603.25 9.81L604.23 9.66L605.21 9.52L606.2 9.37L607.18 9.22L608.16 9.08L609.15 8.93L610.13 8.79L611.11 8.65L612.1 8.51L613.08 8.37L614.07 8.23L615.05 8.09L616.04 7.95L617.03 7.82L618.02 7.68L619 7.55L619.99 7.41L620.98 7.28L621.97 7.15L622.96 7.02L623.95 6.89L624.95 6.77L625.94 6.64L626.93 6.51L627.93 6.39L628.92 6.26L629.92 6.14L630.91 6.02L631.91 5.9L632.91 5.78L633.9 5.66L634.9 5.54L635.9 5.43L636.9 5.31L637.91 5.2L638.91 5.08L639.91 4.97L640.92 4.86L641.92 4.75L642.93 4.64L643.94 4.53L644.94 4.42L645.95 4.32L646.96 4.21L647.97 4.11L648.99 4L650 3.9" fill="none" stroke="#800080" stroke-width="1.6" stroke-linejoin="round" clip-path="url(#cp2)"/>
<path d="M390.6 60.2L391.1 61.1L391.58 62L392.07 62.9L392.54 63.8L393.01 64.71L393.47 65.62L393.93 66.53L394.37 67.44L394.81 68.35L395.25 69.26L395.68 70.18L396.1 71.1L396.51 72.02L396.92 72.94L397.32 73.86L397.72 74.78L398.11 75.71L398.49 76.64L398.87 77.57L399.24 78.5L399.61 79.43L399.97 80.36L400.32 81.3L400.67 82.23L401.01 83.17L401.35 84.11L401.68 85.05L402.01 86L402.33 86.94L402.64 87.88L402.95 88.83L403.26 89.78L403.56 90.73L403.85 91.68L404.14 92.63L404.42 93.58L404.7 94.54L404.97 95.49L405.24 96.45L405.51 97.41L405.77 98.37L406.02 99.33L406.27 100.29L406.51 101.25L406.75 102.22L406.99 103.18L407.22 104.15L407.45 105.12L407.67 106.09L407.89 107.06L408.1 108.03L408.32 109L408.52 109.97L408.72 110.94L408.92 111.92L409.12 112.9L409.31 113.87L409.49 114.85L409.68 115.83L409.86 116.81L410.03 117.79L410.2 118.77L410.37 119.75L410.54 120.74L410.7 121.72L410.86 122.7L411.01 123.69L411.16 124.68L411.31 125.66L411.46 126.65L411.6 127.64L411.74 128.63L411.88 129.62L412.01 130.61L412.14 131.6L412.27 132.59L412.4 133.59L412.52 134.58L412.64 135.58L412.76 136.57L412.88 137.57L412.99 138.56L413.1 139.56L413.21 140.56L413.32 141.55L413.42 142.55L413.52 143.55L413.62 144.55L413.72 145.55L413.82 146.55L413.91 147.55L414 148.55L414.1 149.55L414.18 150.55L414.27 151.55L414.36 152.56L414.44 153.56L414.53 154.56L414.61 155.57L414.69 156.57L414.77 157.57L414.85 158.58L414.92 159.58L415 160.59L415.07 161.59L415.15 162.6L415.22 163.6L415.29 164.61L415.36 165.61L415.43 166.62L415.5 167.62L415.57 168.63L415.64 169.64L415.71 170.64L415.78 171.65L415.85 172.65L415.91 173.66L415.98 174.67L416.05 175.67L416.11 176.68L416.18 177.68L416.25 178.69L416.31 179.7L416.38 180.7L416.44 181.71L416.51 182.71L416.58 183.72L416.65 184.72L416.71 185.73L416.78 186.73L416.85 187.74L416.92 188.74L416.99 189.75L417.06 190.75L417.13 191.76L417.2 192.76L417.28 193.76L417.35 194.77L417.42 195.77L417.5 196.77L417.58 197.77L417.65 198.78L417.73 199.78L417.81 200.78L417.9 201.78L417.98 202.78L418.06 203.78L418.15 204.78L418.24 205.78L418.33 206.77L418.42 207.77L418.51 208.77L418.6 209.76L418.7 210.76L418.8 211.76L418.9 212.75L419 213.75L419.1 214.74L419.21 215.73L419.32 216.72L419.43 217.72L419.54 218.71L419.66 219.7L419.78 220.69L419.9 221.68L420.02 222.66L420.14 223.65L420.27 224.64L420.4 225.62L420.54 226.61L420.67 227.59L420.81 228.58L420.95 229.56L421.1 230.54L421.25 231.52L421.4 232.5L421.5 231.54L421.59 230.57L421.68 229.61L421.77 228.64L421.85 227.67L421.93 226.69L422.01 225.72L422.08 224.74L422.15 223.76L422.22 222.78L422.28 221.8L422.34 220.82L422.4 219.83L422.45 218.85L422.5 217.86L422.55 216.87L422.59 215.88L422.64 214.89L422.68 213.89L422.72 212.9L422.75 211.9L422.78 210.9L422.82 209.9L422.85 208.9L422.87 207.9L422.9 206.9L422.93 205.9L422.95 204.89L422.97 203.89L422.99 202.88L423.01 201.87L423.03 200.86L423.04 199.86L423.06 198.85L423.08 197.83L423.09 196.82L423.1 195.81L423.12 194.8L423.13 193.78L423.14 192.77L423.15 191.76L423.17 190.74L423.18 189.72L423.19 188.71L423.2 187.69L423.21 186.68L423.23 185.66L423.24 184.64L423.25 183.62L423.27 182.61L423.28 181.59L423.3 180.57L423.31 179.55L423.33 178.53L423.35 177.52L423.37 176.5L423.39 175.48L423.41 174.46L423.44 173.44L423.46 172.43L423.49 171.41L423.52 170.39L423.55 169.38L423.58 168.36L423.62 167.34L423.66 166.33L423.7 165.31L423.74 164.3L423.78 163.28L423.83 162.27L423.88 161.26L423.93 160.25L423.99 159.23L424.05 158.22L424.11 157.21L424.17 156.2L424.24 155.2L424.31 154.19L424.39 153.18L424.47 152.18L424.55 151.17L424.63 150.17L424.72 149.17L424.82 148.17L424.92 147.17L425.02 146.17L425.12 145.17L425.23 144.17L425.35 143.18L425.47 142.18L425.59 141.19L425.72 140.2L425.86 139.21L425.99 138.22L426.14 137.24L426.29 136.25L426.44 135.27L426.6 134.29L426.76 133.31L426.94 132.33L427.11 131.35L427.29 130.38L427.48 129.41L427.67 128.43L427.87 127.47L428.08 126.5L428.29 125.53L428.51 124.57L428.73 123.61L428.96 122.65L429.2 121.7L429.45 120.74L429.7 119.79L429.96 118.84L430.22 117.89L430.49 116.95L430.77 116.01L431.06 115.06L431.35 114.13L431.65 113.19L431.96 112.26L432.28 111.33L432.6 110.4L432.94 109.48L433.28 108.56L433.62 107.64L433.98 106.72L434.35 105.81L434.72 104.89L435.1 103.99L435.49 103.08L435.89 102.18L436.3 101.28L436.71 100.38L437.14 99.49L437.57 98.6L438.02 97.72L438.47 96.84L438.93 95.96L439.4 95.08L439.88 94.21L440.36 93.35L440.86 92.49L441.36 91.63L441.87 90.78L442.4 89.93L442.93 89.09L443.47 88.26L444.01 87.43L444.57 86.6L445.14 85.78L445.71 84.97L446.3 84.16L446.89 83.36L447.49 82.56L448.1 81.77L448.72 80.99L449.35 80.21L449.98 79.44L450.63 78.68L451.28 77.92L451.95 77.17L452.62 76.43L453.3 75.7L453.99 74.97L454.69 74.25L455.4 73.54L456.12 72.84L456.84 72.14L457.58 71.46L458.32 70.78L459.07 70.11L459.83 69.45L460.6 68.8L461.38 68.15L462.17 67.52L462.97 66.9L463.78 66.28L464.59 65.68L465.42 65.09L466.25 64.51L467.1 63.94L467.96 63.39L468.83 62.85L469.71 62.33L470.6 61.82L471.5 61.34L472.42 60.87L473.35 60.42L474.3 59.99L475.25 59.6L476.2 59.29L477.14 59.09L478.05 59.07L478.91 59.22L479.72 59.56L480.47 60.08L481.14 60.76L481.73 61.58L482.27 62.49L482.74 63.46L483.16 64.46L483.53 65.45L483.85 66.44L484.14 67.42L484.4 68.4L484.63 69.37L484.84 70.35L485.03 71.32L485.21 72.3L485.39 73.28L485.58 74.26L485.77 75.24L485.98 76.22L486.21 77.19L486.48 78.16L486.78 79.12L487.12 80.07L487.52 81.01L487.97 81.92L488.49 82.8L489.08 83.61L489.75 84.35L490.51 84.99L491.36 85.52L492.27 85.96L493.22 86.33L494.21 86.62L495.19 86.87L496.18 87.07L497.17 87.22L498.16 87.34L499.15 87.42L500.14 87.46L501.13 87.48L502.12 87.47L503.11 87.44L504.11 87.38L505.1 87.31L506.09 87.22L507.08 87.12L508.07 87.02L509.06 86.91L510.05 86.8L511.05 86.69L512.04 86.57L513.03 86.46L514.02 86.35L515.01 86.24L516.01 86.12L517 86.01L517.99 85.9L518.98 85.78L519.98 85.66L520.97 85.54L521.96 85.42L522.95 85.3L523.95 85.18L524.94 85.05L525.93 84.93L526.92 84.8L527.92 84.67L528.91 84.53L529.9 84.4L530.9 84.26L531.89 84.12L532.88 83.98L533.88 83.84L534.87 83.7L535.86 83.55L536.85 83.4L537.85 83.26L538.84 83.11L539.83 82.96L540.83 82.81L541.82 82.65L542.81 82.5L543.8 82.35L544.8 82.19L545.79 82.04L546.78 81.88L547.77 81.73L548.77 81.57L549.76 81.41L550.75 81.26L551.74 81.1L552.73 80.94L553.72 80.79L554.72 80.63L555.71 80.47L556.7 80.32L557.69 80.16L558.68 80.01L559.67 79.85L560.66 79.7L561.65 79.54L562.64 79.39L563.64 79.23L564.63 79.08L565.62 78.93L566.61 78.78L567.6 78.62L568.59 78.47L569.58 78.32L570.57 78.17L571.56 78.02L572.55 77.87L573.53 77.71L574.52 77.56L575.51 77.41L576.5 77.27L577.49 77.12L578.48 76.97L579.47 76.82L580.46 76.67L581.45 76.52L582.44 76.38L583.43 76.23L584.42 76.08L585.4 75.93L586.39 75.79L587.38 75.64L588.37 75.5L589.36 75.35L590.35 75.21L591.34 75.06L592.33 74.92L593.31 74.77L594.3 74.63L595.29 74.49L596.28 74.34L597.27 74.2L598.26 74.06L599.25 73.92L600.23 73.78L601.22 73.64L602.21 73.49L603.2 73.35L604.19 73.21L605.18 73.07L606.17 72.94L607.15 72.8L608.14 72.66L609.13 72.52L610.12 72.38L611.11 72.24L612.1 72.11L613.09 71.97L614.08 71.83L615.07 71.7L616.05 71.56L617.04 71.42L618.03 71.29L619.02 71.15L620.01 71.02L621 70.88L621.99 70.75L622.98 70.62L623.97 70.48L624.96 70.35L625.95 70.22L626.94 70.08L627.93 69.95L628.92 69.82L629.91 69.69L630.9 69.56L631.89 69.43L632.88 69.3L633.87 69.17L634.86 69.04L635.85 68.91L636.84 68.78L637.83 68.65L638.82 68.52L639.81 68.4L640.81 68.27L641.8 68.14L642.79 68.02L643.78 67.89L644.77 67.76L645.76 67.64L646.76 67.51L647.75 67.39L648.74 67.26L649.73 67.14L650.73 67.01L651.72 66.89L652.71 66.77L653.71 66.64L654.7 66.52L655.69 66.4L656.69 66.28L657.68 66.16L658.67 66.03L659.67 65.91L660.66 65.79L661.66 65.67L662.65 65.55L663.65 65.43L664.64 65.32L665.64 65.2L666.63 65.08L667.63 64.96L668.63 64.84L669.62 64.73L670.62 64.61L671.62 64.49L672.61 64.38L673.61 64.26L674.61 64.14L675.6 64.03L676.6 63.91L677.6 63.8" fill="none" stroke="#0000ff" stroke-width="1.6" stroke-linejoin="round" clip-path="url(#cp2)"/>
<path d="M390.6 140.4L391.04 141.31L391.48 142.23L391.92 143.14L392.35 144.06L392.78 144.98L393.2 145.9L393.62 146.82L394.03 147.74L394.44 148.66L394.84 149.59L395.24 150.51L395.63 151.44L396.02 152.37L396.41 153.3L396.79 154.23L397.17 155.17L397.54 156.1L397.91 157.03L398.28 157.97L398.64 158.91L398.99 159.85L399.34 160.79L399.69 161.73L400.04 162.67L400.38 163.62L400.71 164.56L401.04 165.51L401.37 166.45L401.7 167.4L402.02 168.35L402.33 169.3L402.65 170.25L402.96 171.21L403.26 172.16L403.56 173.11L403.86 174.07L404.15 175.03L404.44 175.98L404.73 176.94L405.01 177.9L405.29 178.86L405.57 179.82L405.84 180.79L406.11 181.75L406.37 182.72L406.64 183.68L406.89 184.65L407.15 185.61L407.4 186.58L407.65 187.55L407.9 188.52L408.14 189.49L408.38 190.46L408.61 191.44L408.84 192.41L409.07 193.38L409.3 194.36L409.52 195.33L409.74 196.31L409.96 197.29L410.18 198.26L410.39 199.24L410.6 200.22L410.8 201.2L411 202.18L411.2 203.16L411.4 204.14L411.6 205.13L411.79 206.11L411.98 207.09L412.17 208.08L412.35 209.06L412.53 210.05L412.71 211.03L412.89 212.02L413.06 213.01L413.24 214L413.41 214.98L413.58 215.97L413.74 216.96L413.91 217.95L414.07 218.94L414.23 219.93L414.39 220.93L414.54 221.92L414.7 222.91L414.85 223.9L415 224.89L415.15 225.89L415.3 226.88L415.44 227.88L415.58 228.87L415.73 229.87L415.87 230.86L416 231.86L416.14 232.85L416.28 233.85L416.41 234.84L416.54 235.84L416.68 236.84L416.81 237.84L416.93 238.83L417.06 239.83L417.19 240.83L417.31 241.83L417.44 242.83L417.56 243.82L417.68 244.82L417.8 245.82L417.92 246.82L418.04 247.82L418.16 248.82L418.28 249.82L418.4 250.82L418.51 251.82L418.63 252.82L418.74 253.82L418.86 254.82L418.97 255.82L419.08 256.82L419.2 257.82L419.31 258.82L419.42 259.82L419.53 260.82L419.64 261.82L419.75 262.82L419.86 263.82L419.97 264.82L420.08 265.82L420.19 266.81L420.3 267.81L420.41 268.81L420.52 269.81L420.63 270.81L420.74 271.81L420.85 272.81L420.96 273.81L421.07 274.81L421.18 275.8L421.29 276.8L421.4 277.8L421.5 276.83L421.59 275.86L421.69 274.88L421.78 273.91L421.87 272.93L421.96 271.95L422.04 270.97L422.13 269.98L422.21 269L422.29 268.01L422.37 267.02L422.45 266.03L422.53 265.04L422.61 264.05L422.68 263.05L422.76 262.06L422.84 261.06L422.91 260.06L422.99 259.06L423.06 258.06L423.13 257.06L423.21 256.06L423.28 255.05L423.36 254.05L423.43 253.05L423.51 252.04L423.58 251.03L423.66 250.03L423.74 249.02L423.82 248.01L423.89 247.01L423.97 246L424.06 244.99L424.14 243.98L424.22 242.97L424.31 241.96L424.4 240.95L424.48 239.94L424.58 238.93L424.67 237.92L424.76 236.92L424.86 235.91L424.96 234.9L425.06 233.89L425.17 232.88L425.27 231.88L425.38 230.87L425.5 229.86L425.61 228.86L425.73 227.85L425.85 226.85L425.98 225.84L426.11 224.84L426.24 223.84L426.37 222.84L426.51 221.84L426.66 220.84L426.8 219.84L426.95 218.85L427.11 217.85L427.27 216.86L427.43 215.87L427.6 214.88L427.78 213.89L427.96 212.9L428.14 211.91L428.33 210.93L428.52 209.94L428.72 208.96L428.92 207.98L429.13 207.01L429.35 206.03L429.57 205.06L429.79 204.09L430.02 203.12L430.26 202.15L430.51 201.19L430.76 200.22L431.01 199.26L431.27 198.3L431.54 197.35L431.82 196.4L432.1 195.45L432.39 194.5L432.69 193.55L432.99 192.61L433.3 191.67L433.62 190.74L433.95 189.8L434.28 188.87L434.62 187.94L434.97 187.02L435.32 186.1L435.69 185.18L436.06 184.26L436.44 183.35L436.83 182.45L437.23 181.54L437.63 180.64L438.05 179.75L438.47 178.86L438.9 177.97L439.34 177.09L439.79 176.21L440.25 175.34L440.72 174.48L441.2 173.62L441.69 172.76L442.18 171.91L442.69 171.07L443.21 170.24L443.73 169.41L444.27 168.58L444.82 167.77L445.37 166.96L445.94 166.16L446.52 165.36L447.11 164.58L447.71 163.8L448.32 163.03L448.94 162.27L449.57 161.51L450.21 160.77L450.87 160.03L451.53 159.3L452.21 158.59L452.9 157.88L453.6 157.18L454.31 156.49L455.04 155.81L455.78 155.14L456.52 154.48L457.28 153.82L458.05 153.18L458.83 152.54L459.63 151.91L460.43 151.29L461.24 150.67L462.06 150.06L462.89 149.46L463.74 148.86L464.59 148.26L465.45 147.67L466.31 147.08L467.19 146.5L468.08 145.91L468.97 145.33L469.87 144.76L470.78 144.18L471.69 143.63L472.62 143.12L473.55 142.7L474.48 142.38L475.43 142.19L476.37 142.17L477.32 142.34L478.23 142.68L479.04 143.18L479.71 143.82L480.25 144.56L480.7 145.38L481.08 146.26L481.42 147.17L481.74 148.09L482.04 149.03L482.33 149.97L482.61 150.93L482.87 151.89L483.11 152.87L483.35 153.85L483.57 154.84L483.77 155.83L483.97 156.83L484.15 157.84L484.33 158.85L484.49 159.86L484.64 160.88L484.78 161.89L484.92 162.91L485.05 163.93L485.17 164.95L485.28 165.97L485.38 166.99L485.48 168.01L485.58 169.02L485.67 170.03L485.75 171.04L485.83 172.04L485.91 173.04L485.99 174.03L486.06 175.01L486.13 175.99L486.21 176.96L486.3 177.93L486.39 178.9L486.51 179.87L486.64 180.85L486.79 181.82L486.97 182.81L487.19 183.8L487.43 184.8L487.71 185.81L488.04 186.81L488.41 187.79L488.82 188.74L489.29 189.65L489.82 190.5L490.4 191.29L491.05 192.01L491.75 192.65L492.51 193.23L493.31 193.74L494.16 194.19L495.04 194.58L495.96 194.91L496.9 195.2L497.87 195.43L498.86 195.62L499.85 195.77L500.86 195.88L501.87 195.95L502.89 195.99L503.9 196L504.91 195.98L505.92 195.94L506.93 195.88L507.95 195.81L508.96 195.72L509.96 195.62L510.97 195.52L511.98 195.41L512.99 195.3L513.99 195.19L514.99 195.08L515.99 194.97L516.99 194.86L517.99 194.75L518.99 194.63L519.99 194.52L520.99 194.4L521.98 194.28L522.98 194.16L523.97 194.04L524.96 193.92L525.95 193.8L526.95 193.67L527.94 193.55L528.93 193.42L529.92 193.3L530.91 193.17L531.89 193.04L532.88 192.91L533.87 192.78L534.86 192.65L535.85 192.51L536.83 192.38L537.82 192.24L538.81 192.11L539.8 191.97L540.78 191.83L541.77 191.69L542.76 191.55L543.75 191.41L544.73 191.26L545.72 191.12L546.71 190.98L547.7 190.83L548.69 190.68L549.67 190.53L550.66 190.39L551.65 190.24L552.64 190.09L553.63 189.94L554.62 189.78L555.61 189.63L556.59 189.48L557.58 189.33L558.57 189.17L559.56 189.02L560.55 188.87L561.54 188.71L562.53 188.56L563.52 188.4L564.51 188.25L565.5 188.09L566.49 187.94L567.48 187.78L568.47 187.62L569.45 187.47L570.44 187.31L571.43 187.16L572.42 187L573.41 186.85L574.4 186.69L575.39 186.54L576.38 186.38L577.37 186.23L578.36 186.07L579.35 185.92L580.35 185.77L581.34 185.61L582.33 185.46L583.32 185.31L584.31 185.16L585.3 185.01L586.29 184.86L587.28 184.71L588.27 184.56L589.26 184.42L590.25 184.27L591.24 184.12L592.23 183.98L593.22 183.83L594.21 183.69L595.2 183.55L596.19 183.4L597.19 183.26L598.18 183.12L599.17 182.98L600.16 182.84L601.15 182.7L602.14 182.56L603.13 182.42L604.12 182.28L605.11 182.15L606.1 182.01L607.1 181.87L608.09 181.74L609.08 181.6L610.07 181.47L611.06 181.34L612.05 181.2L613.04 181.07L614.04 180.94L615.03 180.81L616.02 180.67L617.01 180.54L618 180.41L618.99 180.28L619.99 180.15L620.98 180.03L621.97 179.9L622.96 179.77L623.95 179.64L624.95 179.51L625.94 179.39L626.93 179.26L627.92 179.14L628.92 179.01L629.91 178.89L630.9 178.76L631.89 178.64L632.88 178.51L633.88 178.39L634.87 178.27L635.86 178.14L636.86 178.02L637.85 177.9L638.84 177.78L639.83 177.66L640.83 177.53L641.82 177.41L642.81 177.29L643.81 177.17L644.8 177.05L645.79 176.93L646.78 176.81L647.78 176.69L648.77 176.58L649.76 176.46L650.76 176.34L651.75 176.22L652.74 176.1L653.74 175.98L654.73 175.87L655.73 175.75L656.72 175.63L657.71 175.51L658.71 175.4L659.7 175.28L660.69 175.16L661.69 175.05L662.68 174.93L663.68 174.82L664.67 174.7L665.66 174.58L666.66 174.47L667.65 174.35L668.65 174.24L669.64 174.12L670.64 174.01L671.63 173.89L672.63 173.78L673.62 173.66L674.62 173.55L675.61 173.43L676.61 173.31L677.6 173.2" fill="none" stroke="#ff0000" stroke-width="1.6" stroke-linejoin="round" clip-path="url(#cp2)"/>
<text x="414.6" y="23.7" font-size="14.3" fill="#000" stroke="#000" stroke-width="0.18" textLength="16.8" lengthAdjust="spacingAndGlyphs" font-weight="bold">(b)</text>
<text x="567.5" y="43.3" font-size="14" fill="#800080" stroke="#800080" stroke-width="0.18" textLength="17.4" lengthAdjust="spacingAndGlyphs">Q=</text>
<path d="M587.1 38.1h8.8" stroke="#800080" stroke-width="1"/>
<text font-size="13.3" fill="#800080" stroke="#800080" stroke-width="0.18" text-anchor="middle"><tspan x="590.8" y="31.6">3</tspan><tspan x="590.8" y="55.4">2</tspan></text>
<text x="563.1" y="105.6" font-size="14" fill="#0000ff" stroke="#0000ff" stroke-width="0.18" textLength="25.8" lengthAdjust="spacingAndGlyphs">Q=−</text>
<path d="M591.2 100.2h8.8" stroke="#0000ff" stroke-width="1"/>
<text font-size="13.3" fill="#0000ff" stroke="#0000ff" stroke-width="0.18" text-anchor="middle"><tspan x="594.9" y="93.7">1</tspan><tspan x="594.9" y="117.5">4</tspan></text>
<text x="565.1" y="179.5" font-size="14" fill="#ff0000" stroke="#ff0000" stroke-width="0.18" textLength="33" lengthAdjust="spacingAndGlyphs">Q=−4</text>
<rect x="528.9" y="230.1" width="105.3" height="28.1" fill="#fff" stroke="#000" stroke-width="1.8"/>
<text x="533.7" y="251" font-size="14" fill="#000" stroke="#000" stroke-width="0.18" textLength="36.6" lengthAdjust="spacingAndGlyphs">g’=0.2,</text>
<text x="572" y="251" font-size="14" fill="#000" stroke="#000" stroke-width="0.18" textLength="10.4" lengthAdjust="spacingAndGlyphs" font-style="italic">M</text>
<text x="582.9" y="253.3" font-size="8.4" fill="#000" stroke="#000" stroke-width="0.18" textLength="5.2" lengthAdjust="spacingAndGlyphs" font-style="italic">Z</text>
<text x="588.6" y="251.4" font-size="7.5" fill="#000" stroke="#000" stroke-width="0.18">′</text>
<text x="590.5" y="251" font-size="14" fill="#000" stroke="#000" stroke-width="0.18" textLength="37.4" lengthAdjust="spacingAndGlyphs">=2TeV</text>
<path d="M211.4 543.4H500.6" stroke="#00ffff" stroke-width="3"/>
<clipPath id="cp3"><rect x="212" y="356.3" width="287.7" height="286.1"/></clipPath>
<path d="M218.78 642.4v-2.4M218.78 356.3v2.4M231.53 642.4v-2.4M231.53 356.3v2.4M244.28 642.4v-4.4M244.28 356.3v4.4M257.03 642.4v-2.4M257.03 356.3v2.4M269.78 642.4v-2.4M269.78 356.3v2.4M282.53 642.4v-2.4M282.53 356.3v2.4M295.28 642.4v-2.4M295.28 356.3v2.4M308.03 642.4v-4.4M308.03 356.3v4.4M320.78 642.4v-2.4M320.78 356.3v2.4M333.54 642.4v-2.4M333.54 356.3v2.4M346.29 642.4v-2.4M346.29 356.3v2.4M359.04 642.4v-2.4M359.04 356.3v2.4M371.79 642.4v-4.4M371.79 356.3v4.4M384.54 642.4v-2.4M384.54 356.3v2.4M397.29 642.4v-2.4M397.29 356.3v2.4M410.04 642.4v-2.4M410.04 356.3v2.4M422.79 642.4v-2.4M422.79 356.3v2.4M435.54 642.4v-4.4M435.54 356.3v4.4M448.3 642.4v-2.4M448.3 356.3v2.4M461.05 642.4v-2.4M461.05 356.3v2.4M473.8 642.4v-2.4M473.8 356.3v2.4M486.55 642.4v-2.4M486.55 356.3v2.4M212.4 628.05h1.6M499.3 628.05h-1.6M212.4 619.65h1.6M499.3 619.65h-1.6M212.4 613.69h1.6M499.3 613.69h-1.6M212.4 609.07h1.6M499.3 609.07h-1.6M212.4 605.3h1.6M499.3 605.3h-1.6M212.4 602.1h1.6M499.3 602.1h-1.6M212.4 599.34h1.6M499.3 599.34h-1.6M212.4 596.9h1.6M499.3 596.9h-1.6M212.4 594.72h4.3M499.3 594.72h-4.3M212.4 580.36h1.6M499.3 580.36h-1.6M212.4 571.97h1.6M499.3 571.97h-1.6M212.4 566.01h1.6M499.3 566.01h-1.6M212.4 561.39h1.6M499.3 561.39h-1.6M212.4 557.61h1.6M499.3 557.61h-1.6M212.4 554.42h1.6M499.3 554.42h-1.6M212.4 551.65h1.6M499.3 551.65h-1.6M212.4 549.22h1.6M499.3 549.22h-1.6M212.4 547.03h4.3M499.3 547.03h-4.3M212.4 532.68h1.6M499.3 532.68h-1.6M212.4 524.28h1.6M499.3 524.28h-1.6M212.4 518.33h1.6M499.3 518.33h-1.6M212.4 513.7h1.6M499.3 513.7h-1.6M212.4 509.93h1.6M499.3 509.93h-1.6M212.4 506.74h1.6M499.3 506.74h-1.6M212.4 503.97h1.6M499.3 503.97h-1.6M212.4 501.53h1.6M499.3 501.53h-1.6M212.4 499.35h4.3M499.3 499.35h-4.3M212.4 485h1.6M499.3 485h-1.6M212.4 476.6h1.6M499.3 476.6h-1.6M212.4 470.64h1.6M499.3 470.64h-1.6M212.4 466.02h1.6M499.3 466.02h-1.6M212.4 462.25h1.6M499.3 462.25h-1.6M212.4 459.05h1.6M499.3 459.05h-1.6M212.4 456.29h1.6M499.3 456.29h-1.6M212.4 453.85h1.6M499.3 453.85h-1.6M212.4 451.67h4.3M499.3 451.67h-4.3M212.4 437.31h1.6M499.3 437.31h-1.6M212.4 428.92h1.6M499.3 428.92h-1.6M212.4 422.96h1.6M499.3 422.96h-1.6M212.4 418.34h1.6M499.3 418.34h-1.6M212.4 414.56h1.6M499.3 414.56h-1.6M212.4 411.37h1.6M499.3 411.37h-1.6M212.4 408.6h1.6M499.3 408.6h-1.6M212.4 406.17h1.6M499.3 406.17h-1.6M212.4 403.98h4.3M499.3 403.98h-4.3M212.4 389.63h1.6M499.3 389.63h-1.6M212.4 381.23h1.6M499.3 381.23h-1.6M212.4 375.28h1.6M499.3 375.28h-1.6M212.4 370.65h1.6M499.3 370.65h-1.6M212.4 366.88h1.6M499.3 366.88h-1.6M212.4 363.69h1.6M499.3 363.69h-1.6M212.4 360.92h1.6M499.3 360.92h-1.6M212.4 358.48h1.6M499.3 358.48h-1.6" stroke="#1c1c1c" stroke-width="0.8" fill="none"/>
<rect x="212.4" y="356.3" width="286.9" height="286.1" fill="none" stroke="#1c1c1c" stroke-width="0.8"/>
<g font-size="8" fill="#000" stroke="#000" stroke-width="0.12"><text x="244.28" y="653.7" text-anchor="middle">1000</text><text x="308.03" y="653.7" text-anchor="middle">2000</text><text x="371.79" y="653.7" text-anchor="middle">3000</text><text x="435.54" y="653.7" text-anchor="middle">4000</text><text x="499.3" y="653.7" text-anchor="middle">5000</text><text x="207.1" y="644.8" text-anchor="end">0.001</text><text x="207.1" y="597.12" text-anchor="end">0.01</text><text x="207.1" y="549.43" text-anchor="end">0.1</text><text x="207.1" y="501.75" text-anchor="end">1</text><text x="207.1" y="454.07" text-anchor="end">10</text><text x="207.1" y="406.38" text-anchor="end">100</text><text x="207.1" y="358.7" text-anchor="end">1000</text></g>
<text transform="translate(186.7 509.1) rotate(-90)" font-size="14" fill="#000" stroke="#000" stroke-width="0.18"><tspan textLength="16.6" lengthAdjust="spacingAndGlyphs">Ωh</tspan><tspan font-size="9.2" dy="-5.4">2</tspan></text>
<text x="327.5" y="672.7" font-size="14" fill="#000" stroke="#000" stroke-width="0.18" textLength="10.8" lengthAdjust="spacingAndGlyphs" font-style="italic">M</text>
<text x="338.1" y="677" font-size="9.4" fill="#000" stroke="#000" stroke-width="0.18" textLength="7" lengthAdjust="spacingAndGlyphs" font-style="italic">H</text>
<text x="346.7" y="673.5" font-size="5.4" fill="#000" stroke="#000" stroke-width="0.18">0</text>
<text x="346.7" y="679.8" font-size="5.4" fill="#000" stroke="#000" stroke-width="0.18">1</text>
<text x="351" y="672.7" font-size="14" fill="#000" stroke="#000" stroke-width="0.18" textLength="32.6" lengthAdjust="spacingAndGlyphs">(GeV)</text>
<path d="M212.4 411.2L212.85 412.1L213.3 413L213.74 413.9L214.18 414.8L214.61 415.71L215.05 416.62L215.48 417.53L215.91 418.44L216.33 419.35L216.75 420.26L217.16 421.18L217.58 422.1L217.99 423.02L218.39 423.94L218.79 424.86L219.19 425.78L219.58 426.71L219.97 427.64L220.36 428.57L220.74 429.5L221.12 430.43L221.49 431.36L221.86 432.3L222.23 433.24L222.59 434.18L222.94 435.12L223.29 436.06L223.64 437L223.98 437.95L224.32 438.89L224.65 439.84L224.98 440.79L225.3 441.75L225.62 442.7L225.93 443.65L226.24 444.61L226.54 445.57L226.84 446.53L227.13 447.49L227.42 448.45L227.7 449.41L227.97 450.38L228.24 451.35L228.51 452.31L228.77 453.28L229.02 454.25L229.27 455.23L229.51 456.2L229.74 457.18L229.97 458.15L230.2 459.13L230.42 460.11L230.63 461.09L230.83 462.08L231.03 463.06L231.22 464.05L231.41 465.03L231.59 466.02L231.76 467.01L231.93 468L232.09 468.99L232.24 469.99L232.39 470.98L232.53 471.98L232.67 472.98L232.79 473.98L232.91 474.98L233.02 475.98L233.13 476.98L233.23 477.99L233.32 478.99L233.4 480L235.9 511.5L239.3 543.4L241.8 571.8L244 543.4L246 511.5L249.8 480L249.9 478.96L250.01 477.93L250.13 476.9L250.27 475.87L250.42 474.85L250.58 473.84L250.76 472.83L250.95 471.82L251.15 470.82L251.36 469.82L251.59 468.83L251.83 467.84L252.08 466.86L252.34 465.88L252.62 464.91L252.9 463.94L253.2 462.98L253.51 462.02L253.83 461.07L254.17 460.12L254.51 459.18L254.87 458.24L255.24 457.31L255.62 456.38L256 455.46L256.4 454.54L256.82 453.63L257.24 452.72L257.67 451.82L258.11 450.93L258.56 450.03L259.03 449.15L259.5 448.27L259.98 447.4L260.47 446.53L260.98 445.66L261.49 444.81L262.01 443.95L262.54 443.11L263.08 442.27L263.63 441.43L264.19 440.6L264.75 439.78L265.33 438.96L265.91 438.15L266.51 437.34L267.11 436.54L267.72 435.75L268.34 434.96L268.96 434.18L269.6 433.4L270.24 432.63L270.89 431.87L271.55 431.11L272.22 430.36L272.89 429.61L273.57 428.87L274.26 428.14L274.95 427.41L275.66 426.69L276.37 425.98L277.08 425.27L277.8 424.57L278.53 423.87L279.27 423.18L280.01 422.5L280.76 421.82L281.52 421.15L282.28 420.49L283.05 419.83L283.82 419.18L284.6 418.54L285.38 417.9L286.17 417.27L286.97 416.65L287.77 416.04L288.58 415.43L289.39 414.82L290.2 414.23L291.03 413.64L291.85 413.06L292.68 412.48L293.52 411.92L294.36 411.35L295.2 410.8L300 409.9L304.3 413.7L308.5 431L312.9 436.7L320.4 438.2L330 437.9L330.99 437.78L331.99 437.65L332.98 437.53L333.97 437.4L334.96 437.27L335.96 437.15L336.95 437.02L337.94 436.89L338.93 436.76L339.92 436.63L340.91 436.5L341.91 436.37L342.9 436.23L343.89 436.1L344.88 435.97L345.87 435.83L346.86 435.7L347.86 435.56L348.85 435.43L349.84 435.29L350.83 435.15L351.82 435.02L352.81 434.88L353.8 434.74L354.79 434.6L355.78 434.46L356.77 434.32L357.76 434.18L358.75 434.04L359.74 433.9L360.73 433.76L361.73 433.62L362.72 433.47L363.71 433.33L364.7 433.19L365.69 433.04L366.68 432.9L367.67 432.76L368.66 432.61L369.65 432.47L370.64 432.32L371.63 432.18L372.62 432.03L373.61 431.88L374.59 431.74L375.58 431.59L376.57 431.44L377.56 431.29L378.55 431.15L379.54 431L380.53 430.85L381.52 430.7L382.51 430.56L383.5 430.41L384.49 430.26L385.48 430.11L386.47 429.96L387.46 429.81L388.45 429.66L389.44 429.51L390.43 429.36L391.42 429.21L392.4 429.06L393.39 428.91L394.38 428.76L395.37 428.61L396.36 428.46L397.35 428.31L398.34 428.16L399.33 428.01L400.32 427.86L401.31 427.71L402.3 427.56L403.29 427.41L404.28 427.26L405.27 427.11L406.25 426.96L407.24 426.82L408.23 426.67L409.22 426.52L410.21 426.37L411.2 426.22L412.19 426.07L413.18 425.92L414.17 425.77L415.16 425.62L416.15 425.47L417.14 425.33L418.13 425.18L419.12 425.03L420.11 424.88L421.1 424.74L422.09 424.59L423.08 424.44L424.07 424.3L425.05 424.15L426.04 424L427.03 423.86L428.02 423.71L429.01 423.57L430 423.42L430.99 423.28L431.98 423.14L432.97 422.99L433.96 422.85L434.95 422.71L435.95 422.56L436.94 422.42L437.93 422.28L438.92 422.14L439.91 422L440.9 421.86L441.89 421.72L442.88 421.58L443.87 421.44L444.86 421.3L445.85 421.17L446.84 421.03L447.83 420.89L448.82 420.76L449.82 420.62L450.81 420.49L451.8 420.35L452.79 420.22L453.78 420.08L454.77 419.95L455.76 419.82L456.76 419.69L457.75 419.56L458.74 419.43L459.73 419.3L460.72 419.17L461.72 419.04L462.71 418.91L463.7 418.79L464.69 418.66L465.68 418.54L466.68 418.41L467.67 418.29L468.66 418.17L469.66 418.04L470.65 417.92L471.64 417.8L472.64 417.68L473.63 417.56L474.62 417.45L475.62 417.33L476.61 417.21L477.6 417.1L478.6 416.98L479.59 416.87L480.59 416.76L481.58 416.64L482.57 416.53L483.57 416.42L484.56 416.31L485.56 416.21L486.55 416.1L487.55 415.99L488.54 415.89L489.54 415.78L490.53 415.68L491.53 415.58L492.53 415.48L493.52 415.38L494.52 415.28L495.51 415.18L496.51 415.08L497.51 414.99L498.5 414.89L499.5 414.8" fill="none" stroke="#800080" stroke-width="1.5" stroke-linejoin="round" clip-path="url(#cp3)"/>
<path d="M212 351L212.59 351.78L213.18 352.56L213.78 353.34L214.39 354.11L215 354.88L215.61 355.65L216.23 356.41L216.86 357.18L217.49 357.93L218.13 358.69L218.77 359.45L219.42 360.2L220.07 360.95L220.72 361.7L221.38 362.45L222.04 363.19L222.71 363.93L223.38 364.67L224.05 365.41L224.73 366.15L225.41 366.89L226.09 367.62L226.78 368.35L227.47 369.08L228.16 369.82L228.86 370.54L229.55 371.27L230.25 372L230.95 372.73L231.65 373.45L232.36 374.18L233.07 374.9L233.77 375.62L234.48 376.35L235.19 377.07L235.9 377.79L236.61 378.51L237.32 379.24L238.04 379.96L238.75 380.68L239.46 381.4L240.18 382.12L240.89 382.84L241.6 383.57L242.32 384.29L243.03 385.01L243.74 385.74L244.45 386.46L245.16 387.19L245.87 387.91L246.57 388.64L247.28 389.36L247.98 390.09L248.69 390.82L249.39 391.55L250.08 392.29L250.78 393.02L251.47 393.75L252.17 394.49L252.85 395.23L253.54 395.97L254.22 396.71L254.9 397.45L255.58 398.19L256.25 398.94L256.92 399.69L257.59 400.44L258.25 401.19L258.91 401.95L259.56 402.71L260.21 403.47L260.86 404.23L261.5 404.99L262.13 405.76L262.76 406.53L263.39 407.31L264.01 408.08L264.63 408.86L265.24 409.64L265.84 410.43L266.44 411.22L267.03 412.01L267.62 412.81L268.2 413.6L268.77 414.41L269.34 415.21L269.9 416.02L270.46 416.83L271 417.65L271.55 418.47L272.08 419.29L272.61 420.12L273.13 420.95L273.65 421.79L274.16 422.62L274.66 423.47L275.16 424.31L275.65 425.16L276.13 426.01L276.6 426.87L277.07 427.73L277.53 428.6L277.98 429.47L278.42 430.34L278.86 431.22L279.29 432.1L279.71 432.98L280.13 433.87L280.54 434.77L280.94 435.66L281.33 436.57L281.71 437.47L282.09 438.38L282.45 439.3L282.81 440.22L283.16 441.14L283.51 442.07L283.84 443L284.17 443.94L284.49 444.88L284.79 445.83L285.1 446.78L285.39 447.74L285.67 448.7L285.95 449.66L286.21 450.63L286.47 451.61L286.72 452.58L286.96 453.57L287.19 454.56L287.41 455.55L287.62 456.55L287.82 457.55L288.01 458.56L288.2 459.58L288.37 460.6L288.54 461.62L288.69 462.65L288.84 463.68L288.97 464.72L289.1 465.77L289.21 466.82L289.32 467.87L289.41 468.93L289.5 470L304.3 552L312.9 473.8L312.99 472.79L313.09 471.78L313.21 470.77L313.34 469.77L313.48 468.77L313.64 467.77L313.81 466.78L314 465.79L314.19 464.8L314.41 463.82L314.63 462.85L314.87 461.87L315.12 460.9L315.38 459.94L315.65 458.98L315.94 458.02L316.24 457.07L316.55 456.12L316.88 455.18L317.21 454.24L317.56 453.31L317.92 452.38L318.29 451.45L318.67 450.53L319.06 449.62L319.47 448.71L319.88 447.8L320.31 446.9L320.75 446L321.2 445.11L321.65 444.23L322.12 443.35L322.6 442.47L323.09 441.6L323.59 440.73L324.1 439.88L324.62 439.02L325.15 438.17L325.69 437.33L326.23 436.49L326.79 435.66L327.36 434.83L327.93 434.01L328.52 433.2L329.11 432.39L329.71 431.59L330.32 430.79L330.94 430L331.57 429.22L332.2 428.44L332.85 427.66L333.5 426.9L334.16 426.14L334.83 425.39L335.5 424.64L336.18 423.9L336.87 423.17L337.57 422.44L338.27 421.72L338.98 421L339.7 420.3L340.43 419.6L341.16 418.9L341.89 418.22L342.64 417.54L343.39 416.87L344.14 416.2L344.91 415.55L345.67 414.89L346.45 414.25L347.23 413.62L348.01 412.99L348.8 412.37L349.6 411.75L350.4 411.15L351.2 410.55L352.01 409.96L352.83 409.38L353.65 408.8L354.47 408.23L355.3 407.68L356.13 407.12L356.97 406.58L357.81 406.05L358.66 405.52L359.51 405L360.36 404.49L361.21 403.99L362.07 403.5L362.94 403.01L363.8 402.53L364.67 402.07L365.54 401.61L366.42 401.16L367.29 400.71L368.17 400.28L369.06 399.85L369.94 399.43L370.83 399.02L371.72 398.61L372.62 398.21L373.51 397.81L374.41 397.43L375.31 397.04L376.22 396.66L377.12 396.29L378.03 395.92L378.94 395.55L379.85 395.19L380.77 394.83L381.69 394.48L382.61 394.12L383.53 393.77L384.46 393.42L385.38 393.07L386.31 392.73L387.24 392.38L388.18 392.04L389.11 391.69L390.05 391.35L390.99 391.01L391.93 390.66L392.88 390.32L393.82 389.97L394.77 389.62L395.72 389.27L396.67 388.92L397.63 388.56L398.58 388.21L399.54 387.84L400.5 387.48L401.46 387.11L402.42 386.74L403.38 386.36L404.35 385.99L405.31 385.61L406.28 385.24L407.25 384.88L408.22 384.53L409.2 384.2L410.17 383.89L411.15 383.6L412.12 383.34L413.1 383.1L414.08 382.9L415.06 382.74L416.05 382.62L417.03 382.54L418.02 382.51L419 382.53L419.99 382.6L420.98 382.73L421.96 382.92L422.94 383.17L423.9 383.47L424.85 383.84L425.76 384.26L426.65 384.73L427.51 385.27L428.32 385.86L429.08 386.51L429.79 387.21L430.45 387.97L431.06 388.77L431.61 389.62L432.12 390.5L432.59 391.4L433.01 392.32L433.4 393.26L433.76 394.21L434.09 395.16L434.41 396.11L434.72 397.07L435.03 398.03L435.34 398.98L435.68 399.93L436.03 400.87L436.42 401.8L436.85 402.7L437.35 403.55L437.92 404.35L438.58 405.08L439.33 405.74L440.15 406.33L441.03 406.86L441.94 407.33L442.88 407.76L443.83 408.14L444.78 408.49L445.74 408.8L446.7 409.08L447.66 409.33L448.63 409.55L449.6 409.74L450.57 409.9L451.54 410.05L452.52 410.17L453.5 410.27L454.48 410.36L455.47 410.43L456.45 410.49L457.44 410.54L458.43 410.58L459.43 410.62L460.42 410.65L461.42 410.67L462.42 410.7L463.42 410.72L464.42 410.74L465.42 410.76L466.43 410.78L467.43 410.79L468.44 410.8L469.45 410.8L470.46 410.8L471.46 410.79L472.47 410.78L473.48 410.77L474.49 410.75L475.5 410.72L476.51 410.69L477.52 410.65L478.53 410.61L479.54 410.56L480.55 410.51L481.56 410.45L482.57 410.39L483.58 410.33L484.58 410.26L485.59 410.2L486.59 410.13L487.59 410.06L488.6 409.99L489.6 409.92L490.6 409.85L491.59 409.78L492.59 409.71L493.58 409.64L494.57 409.58L495.56 409.52L496.55 409.46L497.54 409.4L498.52 409.35L499.5 409.3" fill="none" stroke="#0000ff" stroke-width="1.5" stroke-linejoin="round" clip-path="url(#cp3)"/>
<path d="M250 352.8L250.81 353.33L251.63 353.86L252.45 354.39L253.28 354.92L254.1 355.46L254.93 355.99L255.76 356.52L256.59 357.05L257.43 357.59L258.27 358.12L259.11 358.66L259.95 359.19L260.79 359.73L261.63 360.26L262.48 360.8L263.33 361.34L264.18 361.88L265.03 362.42L265.88 362.96L266.73 363.5L267.58 364.05L268.43 364.59L269.29 365.14L270.14 365.69L270.99 366.24L271.85 366.79L272.7 367.34L273.56 367.89L274.41 368.45L275.27 369L276.12 369.56L276.97 370.12L277.83 370.69L278.68 371.25L279.53 371.82L280.38 372.38L281.23 372.95L282.08 373.53L282.92 374.1L283.77 374.68L284.61 375.26L285.46 375.84L286.3 376.42L287.14 377.01L287.97 377.6L288.81 378.19L289.64 378.78L290.47 379.38L291.3 379.98L292.12 380.58L292.95 381.18L293.77 381.79L294.58 382.4L295.4 383.01L296.21 383.63L297.02 384.25L297.82 384.87L298.62 385.5L299.42 386.13L300.21 386.76L301 387.39L301.79 388.03L302.57 388.68L303.35 389.32L304.12 389.97L304.89 390.62L305.65 391.28L306.41 391.94L307.17 392.61L307.92 393.27L308.67 393.95L309.41 394.62L310.14 395.3L310.87 395.99L311.6 396.68L312.31 397.37L313.03 398.07L313.74 398.77L314.44 399.47L315.13 400.18L315.82 400.9L316.51 401.61L317.18 402.34L317.85 403.07L318.52 403.8L319.18 404.54L319.83 405.28L320.47 406.03L321.11 406.78L321.74 407.53L322.36 408.3L322.97 409.06L323.58 409.83L324.18 410.61L324.77 411.39L325.36 412.18L325.94 412.97L326.5 413.77L327.06 414.58L327.62 415.39L328.16 416.2L328.7 417.02L329.22 417.85L329.74 418.68L330.25 419.51L330.75 420.36L331.24 421.2L331.73 422.06L332.21 422.91L332.68 423.78L333.14 424.65L333.59 425.52L334.04 426.4L334.48 427.28L334.91 428.16L335.34 429.05L335.76 429.95L336.17 430.85L336.58 431.75L336.97 432.66L337.37 433.57L337.75 434.49L338.13 435.4L338.51 436.33L338.88 437.25L339.24 438.18L339.59 439.12L339.95 440.05L340.29 440.99L340.63 441.93L340.97 442.88L341.3 443.83L341.62 444.78L341.94 445.73L342.26 446.69L342.57 447.65L342.87 448.61L343.18 449.57L343.47 450.54L343.77 451.51L344.06 452.48L344.34 453.45L344.63 454.42L344.91 455.4L345.18 456.38L345.45 457.36L345.72 458.34L345.99 459.32L346.25 460.3L346.51 461.29L346.77 462.27L347.02 463.26L347.27 464.25L347.52 465.24L347.77 466.22L348.01 467.21L348.26 468.2L348.5 469.19L348.74 470.19L348.97 471.18L349.21 472.17L349.45 473.16L349.68 474.15L349.91 475.14L350.14 476.13L350.37 477.12L350.6 478.11L350.83 479.1L351.06 480.09L351.29 481.08L351.51 482.07L351.74 483.05L351.97 484.04L352.2 485.02L352.42 486.01L352.65 486.99L352.88 487.97L353.11 488.95L353.34 489.93L353.57 490.9L353.8 491.88L354.03 492.85L354.27 493.82L354.5 494.79L354.74 495.76L354.98 496.72L355.22 497.68L355.46 498.64L355.7 499.6L367.1 538.1L371.5 523.3L373.4 500L374.1 490.4L375.4 473.4L375.51 472.42L375.64 471.44L375.78 470.47L375.92 469.49L376.08 468.51L376.25 467.53L376.43 466.55L376.62 465.58L376.82 464.6L377.03 463.62L377.25 462.65L377.48 461.67L377.72 460.7L377.97 459.73L378.23 458.76L378.5 457.79L378.78 456.83L379.07 455.86L379.37 454.9L379.68 453.94L380 452.98L380.34 452.03L380.68 451.08L381.03 450.13L381.39 449.19L381.76 448.24L382.14 447.31L382.52 446.37L382.92 445.44L383.33 444.52L383.75 443.59L384.18 442.68L384.61 441.76L385.06 440.85L385.51 439.95L385.98 439.05L386.45 438.16L386.93 437.27L387.42 436.38L387.92 435.51L388.43 434.64L388.95 433.77L389.48 432.91L390.01 432.06L390.56 431.21L391.11 430.37L391.68 429.54L392.25 428.71L392.83 427.89L393.41 427.08L394.01 426.27L394.62 425.47L395.23 424.68L395.85 423.9L396.48 423.13L397.12 422.36L397.77 421.6L398.42 420.86L399.08 420.11L399.75 419.38L400.43 418.66L401.12 417.95L401.81 417.24L402.51 416.55L403.22 415.86L403.94 415.19L404.67 414.52L405.4 413.87L406.14 413.22L406.89 412.58L407.64 411.96L408.4 411.34L409.17 410.73L409.94 410.12L410.72 409.53L411.51 408.94L412.31 408.37L413.11 407.8L413.91 407.24L414.72 406.68L415.54 406.14L416.36 405.6L417.19 405.07L418.03 404.54L418.87 404.02L419.71 403.51L420.56 403.01L421.42 402.51L422.28 402.02L423.14 401.53L424.01 401.05L424.89 400.58L425.76 400.11L426.65 399.65L427.53 399.19L428.42 398.74L429.32 398.29L430.21 397.85L431.12 397.41L432.02 396.98L432.93 396.55L433.84 396.12L434.75 395.7L435.67 395.28L436.59 394.87L437.52 394.46L438.44 394.06L439.37 393.65L440.3 393.25L441.23 392.86L442.17 392.46L443.1 392.07L444.04 391.68L444.98 391.29L445.92 390.91L446.87 390.53L447.81 390.15L448.76 389.77L449.7 389.39L450.65 389.01L451.6 388.64L452.55 388.27L453.5 387.89L454.45 387.52L455.4 387.15L456.35 386.78L457.31 386.41L458.26 386.05L459.21 385.68L460.17 385.32L461.12 384.96L462.08 384.6L463.03 384.24L463.99 383.89L464.94 383.54L465.9 383.19L466.85 382.84L467.81 382.5L468.77 382.16L469.73 381.82L470.68 381.49L471.64 381.16L472.6 380.84L473.56 380.51L474.52 380.2L475.48 379.88L476.44 379.58L477.4 379.27L478.36 378.97L479.32 378.68L480.28 378.39L481.24 378.11L482.2 377.83L483.16 377.55L484.12 377.29L485.08 377.02L486.04 376.77L487 376.52L487.96 376.28L488.93 376.04L489.89 375.81L490.85 375.59L491.81 375.37L492.77 375.16L493.73 374.96L494.69 374.76L495.66 374.57L496.62 374.39L497.58 374.22L498.54 374.06L499.5 373.9" fill="none" stroke="#ff0000" stroke-width="1.5" stroke-linejoin="round" clip-path="url(#cp3)"/>
<text x="237.5" y="373.4" font-size="14.3" fill="#000" stroke="#000" stroke-width="0.18" textLength="14.8" lengthAdjust="spacingAndGlyphs" font-weight="bold">(c)</text>
<text x="381.6" y="531" font-size="14" fill="#ff0000" stroke="#ff0000" stroke-width="0.18" textLength="10.4" lengthAdjust="spacingAndGlyphs" font-style="italic">M</text>
<text x="392.5" y="533.3" font-size="8.4" fill="#ff0000" stroke="#ff0000" stroke-width="0.18" textLength="5.2" lengthAdjust="spacingAndGlyphs" font-style="italic">Z</text>
<text x="398.2" y="531.4" font-size="7.5" fill="#ff0000" stroke="#ff0000" stroke-width="0.18">′</text>
<text x="400.1" y="531" font-size="14" fill="#ff0000" stroke="#ff0000" stroke-width="0.18" textLength="38.9" lengthAdjust="spacingAndGlyphs">=6TeV</text>
<text x="311.9" y="564.2" font-size="14" fill="#0000ff" stroke="#0000ff" stroke-width="0.18" textLength="10.4" lengthAdjust="spacingAndGlyphs" font-style="italic">M</text>
<text x="322.8" y="566.5" font-size="8.4" fill="#0000ff" stroke="#0000ff" stroke-width="0.18" textLength="5.2" lengthAdjust="spacingAndGlyphs" font-style="italic">Z</text>
<text x="328.5" y="564.6" font-size="7.5" fill="#0000ff" stroke="#0000ff" stroke-width="0.18">′</text>
<text x="330.4" y="564.2" font-size="14" fill="#0000ff" stroke="#0000ff" stroke-width="0.18" textLength="38.3" lengthAdjust="spacingAndGlyphs">=4TeV</text>
<text x="247.9" y="587.2" font-size="14" fill="#800080" stroke="#800080" stroke-width="0.18" textLength="10.4" lengthAdjust="spacingAndGlyphs" font-style="italic">M</text>
<text x="258.8" y="589.5" font-size="8.4" fill="#800080" stroke="#800080" stroke-width="0.18" textLength="5.2" lengthAdjust="spacingAndGlyphs" font-style="italic">Z</text>
<text x="264.5" y="587.6" font-size="7.5" fill="#800080" stroke="#800080" stroke-width="0.18">′</text>
<text x="266.4" y="587.2" font-size="14" fill="#800080" stroke="#800080" stroke-width="0.18" textLength="38.3" lengthAdjust="spacingAndGlyphs">=2TeV</text>
<rect x="361.6" y="574" width="84.3" height="41.6" fill="#fff" stroke="#000" stroke-width="1.8"/>
<text x="366.4" y="599.8" font-size="14" fill="#000" stroke="#000" stroke-width="0.18" textLength="25.1" lengthAdjust="spacingAndGlyphs">Q=−</text>
<path d="M394.1 594.6h8.8" stroke="#000" stroke-width="1"/>
<text font-size="13.3" fill="#000" stroke="#000" stroke-width="0.18" text-anchor="middle"><tspan x="397.8" y="588.1">1</tspan><tspan x="397.8" y="611.9">4</tspan></text>
<text x="403.8" y="599.8" font-size="14" fill="#000" stroke="#000" stroke-width="0.18">,</text>
<text x="406.8" y="599.8" font-size="14" fill="#000" stroke="#000" stroke-width="0.18" textLength="33.6" lengthAdjust="spacingAndGlyphs">g’=0.2</text>
</svg>
</body></html>
